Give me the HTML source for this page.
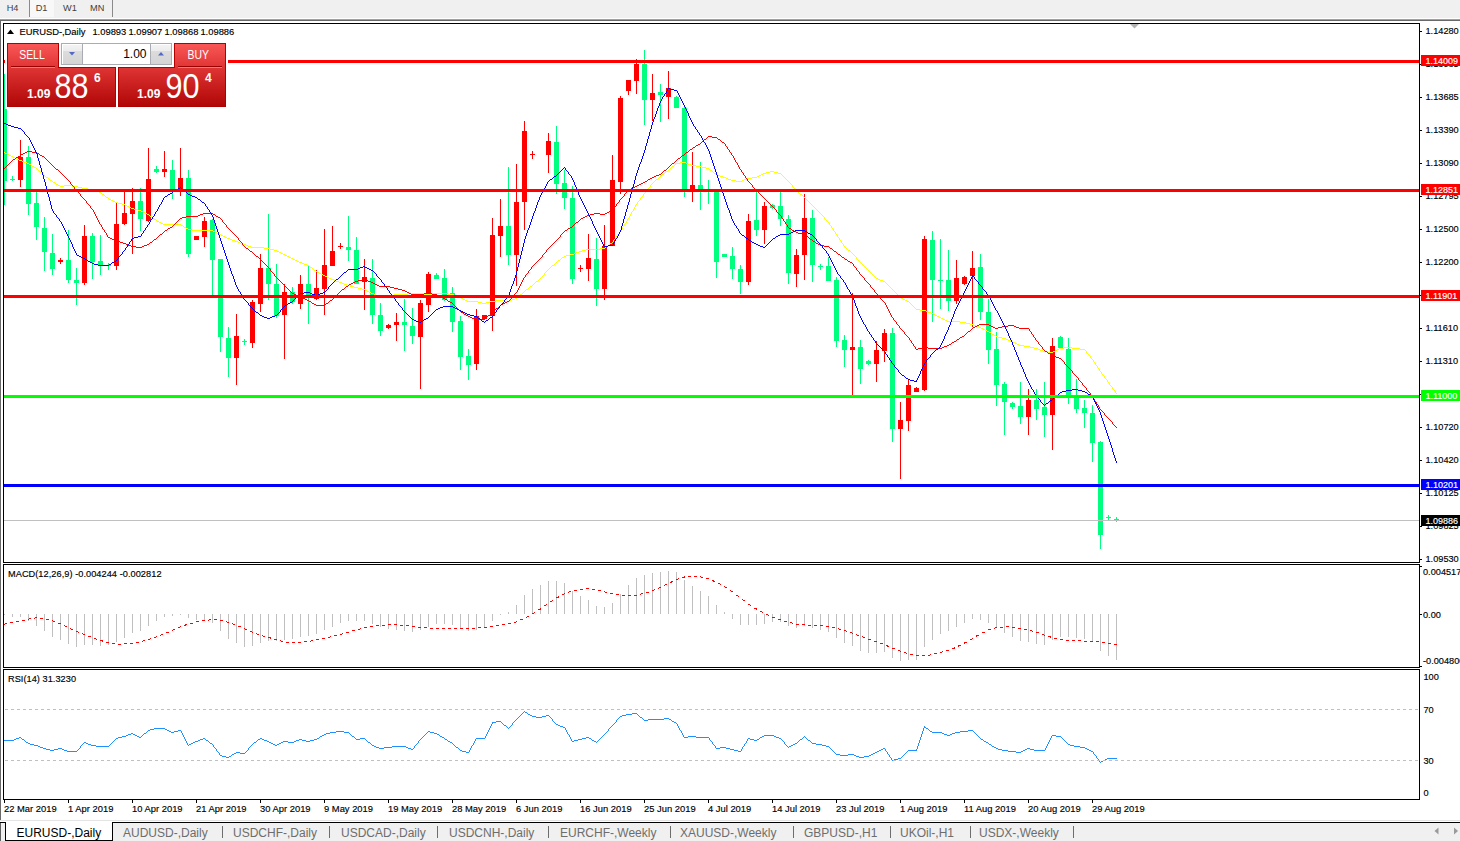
<!DOCTYPE html>
<html><head><meta charset="utf-8"><style>
html,body{margin:0;padding:0;background:#fff;width:1460px;height:841px;overflow:hidden}
svg{display:block}
text{font-family:"Liberation Sans", sans-serif}
text.s{stroke:currentColor}
.panel{position:absolute;font-family:"Liberation Sans", sans-serif}
</style></head><body>
<svg width="1460" height="841" viewBox="0 0 1460 841">
<rect x="0" y="0" width="1460" height="841" fill="#ffffff" />
<rect x="0" y="0" width="1460" height="18" fill="#f0f0f0" />
<rect x="0" y="18" width="1460" height="1" fill="#ffffff" />
<rect x="0" y="19" width="1460" height="1" fill="#a0a0a0" />
<rect x="0" y="20" width="1460" height="1" fill="#696969" />
<rect x="30" y="0" width="24" height="17" fill="#f8f8f8" />
<rect x="29" y="0" width="1" height="17" fill="#8a8a8a" />
<rect x="112" y="0" width="1" height="17" fill="#8a8a8a" />
<text x="6.7" y="11" font-size="9.2" fill="#404040">H4</text>
<text x="35.7" y="11" font-size="9.2" fill="#404040">D1</text>
<text x="63" y="11" font-size="9.2" fill="#404040">W1</text>
<text x="90" y="11" font-size="9.2" fill="#404040">MN</text>
<rect x="0" y="20" width="1" height="800" fill="#696969" />
<rect x="3" y="23" width="1417" height="1" fill="#000" />
<rect x="3" y="562" width="1417" height="1" fill="#000" />
<rect x="3" y="23" width="1" height="540" fill="#000" />
<rect x="1419" y="23" width="1" height="540" fill="#000" />
<rect x="3" y="564" width="1417" height="1" fill="#000" />
<rect x="3" y="667" width="1417" height="1" fill="#000" />
<rect x="3" y="564" width="1" height="104" fill="#000" />
<rect x="1419" y="564" width="1" height="104" fill="#000" />
<rect x="3" y="669" width="1417" height="1" fill="#000" />
<rect x="3" y="799" width="1417" height="1" fill="#000" />
<rect x="3" y="669" width="1" height="131" fill="#000" />
<rect x="1419" y="669" width="1" height="131" fill="#000" />
<g shape-rendering="crispEdges">
<rect x="4" y="74" width="1" height="131" fill="#00ff7f" />
<rect x="4" y="74" width="3" height="107" fill="#00ff7f" />
<rect x="12" y="176" width="1" height="5" fill="#00ff7f" />
<rect x="10" y="179" width="5" height="1" fill="#00ff7f" />
<rect x="20" y="140" width="1" height="47" fill="#ff0000" />
<rect x="18" y="157" width="5" height="23" fill="#ff0000" />
<rect x="28" y="146" width="1" height="69" fill="#00ff7f" />
<rect x="26" y="157" width="5" height="47" fill="#00ff7f" />
<rect x="36" y="192" width="1" height="48" fill="#00ff7f" />
<rect x="34" y="203" width="5" height="24" fill="#00ff7f" />
<rect x="44" y="217" width="1" height="54" fill="#00ff7f" />
<rect x="42" y="228" width="5" height="24" fill="#00ff7f" />
<rect x="52" y="234" width="1" height="41" fill="#00ff7f" />
<rect x="50" y="253" width="5" height="16" fill="#00ff7f" />
<rect x="60" y="258" width="1" height="6" fill="#ff0000" />
<rect x="58" y="260" width="5" height="2" fill="#ff0000" />
<rect x="68" y="230" width="1" height="53" fill="#00ff7f" />
<rect x="66" y="260" width="5" height="20" fill="#00ff7f" />
<rect x="76" y="268" width="1" height="37" fill="#00ff7f" />
<rect x="74" y="280" width="5" height="3" fill="#00ff7f" />
<rect x="84" y="225" width="1" height="60" fill="#ff0000" />
<rect x="82" y="236" width="5" height="47" fill="#ff0000" />
<rect x="92" y="233" width="1" height="46" fill="#00ff7f" />
<rect x="90" y="236" width="5" height="26" fill="#00ff7f" />
<rect x="100" y="235" width="1" height="40" fill="#00ff7f" />
<rect x="98" y="261" width="5" height="5" fill="#00ff7f" />
<rect x="108" y="263" width="1" height="7" fill="#00ff7f" />
<rect x="106" y="265" width="5" height="1" fill="#00ff7f" />
<rect x="116" y="202" width="1" height="68" fill="#ff0000" />
<rect x="114" y="224" width="5" height="42" fill="#ff0000" />
<rect x="124" y="191" width="1" height="34" fill="#ff0000" />
<rect x="122" y="213" width="5" height="11" fill="#ff0000" />
<rect x="132" y="188" width="1" height="66" fill="#ff0000" />
<rect x="130" y="201" width="5" height="13" fill="#ff0000" />
<rect x="140" y="188" width="1" height="43" fill="#00ff7f" />
<rect x="138" y="201" width="5" height="18" fill="#00ff7f" />
<rect x="148" y="148" width="1" height="74" fill="#ff0000" />
<rect x="146" y="179" width="5" height="42" fill="#ff0000" />
<rect x="156" y="166" width="1" height="7" fill="#00ff7f" />
<rect x="154" y="169" width="5" height="3" fill="#00ff7f" />
<rect x="164" y="151" width="1" height="26" fill="#ff0000" />
<rect x="162" y="169" width="5" height="3" fill="#ff0000" />
<rect x="172" y="160" width="1" height="39" fill="#00ff7f" />
<rect x="170" y="170" width="5" height="19" fill="#00ff7f" />
<rect x="180" y="148" width="1" height="48" fill="#ff0000" />
<rect x="178" y="178" width="5" height="12" fill="#ff0000" />
<rect x="188" y="170" width="1" height="87" fill="#00ff7f" />
<rect x="186" y="178" width="5" height="76" fill="#00ff7f" />
<rect x="196" y="236" width="1" height="4" fill="#ff0000" />
<rect x="194" y="236" width="5" height="4" fill="#ff0000" />
<rect x="204" y="217" width="1" height="30" fill="#ff0000" />
<rect x="202" y="221" width="5" height="16" fill="#ff0000" />
<rect x="212" y="219" width="1" height="76" fill="#00ff7f" />
<rect x="210" y="220" width="5" height="40" fill="#00ff7f" />
<rect x="220" y="259" width="1" height="93" fill="#00ff7f" />
<rect x="218" y="259" width="5" height="78" fill="#00ff7f" />
<rect x="228" y="327" width="1" height="50" fill="#00ff7f" />
<rect x="226" y="338" width="5" height="20" fill="#00ff7f" />
<rect x="236" y="314" width="1" height="71" fill="#ff0000" />
<rect x="234" y="336" width="5" height="22" fill="#ff0000" />
<rect x="244" y="339" width="1" height="6" fill="#00ff7f" />
<rect x="242" y="341" width="5" height="1" fill="#00ff7f" />
<rect x="252" y="300" width="1" height="48" fill="#ff0000" />
<rect x="250" y="302" width="5" height="41" fill="#ff0000" />
<rect x="260" y="254" width="1" height="58" fill="#ff0000" />
<rect x="258" y="268" width="5" height="36" fill="#ff0000" />
<rect x="268" y="214" width="1" height="86" fill="#00ff7f" />
<rect x="266" y="268" width="5" height="16" fill="#00ff7f" />
<rect x="276" y="264" width="1" height="54" fill="#00ff7f" />
<rect x="274" y="284" width="5" height="32" fill="#00ff7f" />
<rect x="284" y="284" width="1" height="75" fill="#ff0000" />
<rect x="282" y="292" width="5" height="23" fill="#ff0000" />
<rect x="292" y="287" width="1" height="17" fill="#00ff7f" />
<rect x="290" y="292" width="5" height="10" fill="#00ff7f" />
<rect x="300" y="275" width="1" height="34" fill="#ff0000" />
<rect x="298" y="284" width="5" height="20" fill="#ff0000" />
<rect x="308" y="266" width="1" height="58" fill="#00ff7f" />
<rect x="306" y="284" width="5" height="12" fill="#00ff7f" />
<rect x="316" y="270" width="1" height="30" fill="#ff0000" />
<rect x="314" y="288" width="5" height="11" fill="#ff0000" />
<rect x="324" y="229" width="1" height="86" fill="#ff0000" />
<rect x="322" y="265" width="5" height="24" fill="#ff0000" />
<rect x="332" y="226" width="1" height="40" fill="#ff0000" />
<rect x="330" y="251" width="5" height="15" fill="#ff0000" />
<rect x="340" y="243" width="1" height="6" fill="#ff0000" />
<rect x="338" y="246" width="5" height="1" fill="#ff0000" />
<rect x="348" y="216" width="1" height="45" fill="#00ff7f" />
<rect x="346" y="247" width="5" height="3" fill="#00ff7f" />
<rect x="356" y="237" width="1" height="47" fill="#00ff7f" />
<rect x="354" y="250" width="5" height="34" fill="#00ff7f" />
<rect x="364" y="259" width="1" height="51" fill="#ff0000" />
<rect x="362" y="277" width="5" height="5" fill="#ff0000" />
<rect x="372" y="259" width="1" height="65" fill="#00ff7f" />
<rect x="370" y="278" width="5" height="37" fill="#00ff7f" />
<rect x="380" y="303" width="1" height="33" fill="#00ff7f" />
<rect x="378" y="315" width="5" height="16" fill="#00ff7f" />
<rect x="388" y="324" width="1" height="5" fill="#ff0000" />
<rect x="386" y="325" width="5" height="3" fill="#ff0000" />
<rect x="396" y="313" width="1" height="28" fill="#ff0000" />
<rect x="394" y="322" width="5" height="3" fill="#ff0000" />
<rect x="404" y="299" width="1" height="52" fill="#00ff7f" />
<rect x="402" y="322" width="5" height="3" fill="#00ff7f" />
<rect x="412" y="308" width="1" height="36" fill="#00ff7f" />
<rect x="410" y="326" width="5" height="10" fill="#00ff7f" />
<rect x="420" y="300" width="1" height="89" fill="#ff0000" />
<rect x="418" y="303" width="5" height="34" fill="#ff0000" />
<rect x="428" y="272" width="1" height="40" fill="#ff0000" />
<rect x="426" y="274" width="5" height="31" fill="#ff0000" />
<rect x="436" y="273" width="1" height="6" fill="#00ff7f" />
<rect x="434" y="275" width="5" height="4" fill="#00ff7f" />
<rect x="444" y="269" width="1" height="32" fill="#00ff7f" />
<rect x="442" y="278" width="5" height="22" fill="#00ff7f" />
<rect x="452" y="287" width="1" height="45" fill="#00ff7f" />
<rect x="450" y="293" width="5" height="29" fill="#00ff7f" />
<rect x="460" y="316" width="1" height="54" fill="#00ff7f" />
<rect x="458" y="321" width="5" height="36" fill="#00ff7f" />
<rect x="468" y="349" width="1" height="31" fill="#00ff7f" />
<rect x="466" y="356" width="5" height="9" fill="#00ff7f" />
<rect x="476" y="309" width="1" height="61" fill="#ff0000" />
<rect x="474" y="316" width="5" height="48" fill="#ff0000" />
<rect x="484" y="315" width="1" height="4" fill="#ff0000" />
<rect x="482" y="315" width="5" height="4" fill="#ff0000" />
<rect x="492" y="218" width="1" height="113" fill="#ff0000" />
<rect x="490" y="235" width="5" height="81" fill="#ff0000" />
<rect x="500" y="199" width="1" height="58" fill="#ff0000" />
<rect x="498" y="226" width="5" height="10" fill="#ff0000" />
<rect x="508" y="167" width="1" height="98" fill="#00ff7f" />
<rect x="506" y="226" width="5" height="29" fill="#00ff7f" />
<rect x="516" y="164" width="1" height="122" fill="#ff0000" />
<rect x="514" y="202" width="5" height="53" fill="#ff0000" />
<rect x="524" y="121" width="1" height="109" fill="#ff0000" />
<rect x="522" y="131" width="5" height="71" fill="#ff0000" />
<rect x="532" y="151" width="1" height="8" fill="#ff0000" />
<rect x="530" y="154" width="5" height="1" fill="#ff0000" />
<rect x="548" y="133" width="1" height="40" fill="#ff0000" />
<rect x="546" y="141" width="5" height="14" fill="#ff0000" />
<rect x="556" y="126" width="1" height="68" fill="#00ff7f" />
<rect x="554" y="142" width="5" height="42" fill="#00ff7f" />
<rect x="564" y="170" width="1" height="39" fill="#00ff7f" />
<rect x="562" y="183" width="5" height="15" fill="#00ff7f" />
<rect x="572" y="186" width="1" height="98" fill="#00ff7f" />
<rect x="570" y="198" width="5" height="81" fill="#00ff7f" />
<rect x="580" y="265" width="1" height="7" fill="#ff0000" />
<rect x="578" y="268" width="5" height="1" fill="#ff0000" />
<rect x="588" y="234" width="1" height="47" fill="#ff0000" />
<rect x="586" y="258" width="5" height="11" fill="#ff0000" />
<rect x="596" y="238" width="1" height="68" fill="#00ff7f" />
<rect x="594" y="259" width="5" height="30" fill="#00ff7f" />
<rect x="604" y="225" width="1" height="75" fill="#ff0000" />
<rect x="602" y="246" width="5" height="43" fill="#ff0000" />
<rect x="612" y="155" width="1" height="91" fill="#ff0000" />
<rect x="610" y="180" width="5" height="66" fill="#ff0000" />
<rect x="620" y="96" width="1" height="98" fill="#ff0000" />
<rect x="618" y="98" width="5" height="84" fill="#ff0000" />
<rect x="628" y="80" width="1" height="15" fill="#ff0000" />
<rect x="626" y="80" width="5" height="11" fill="#ff0000" />
<rect x="636" y="59" width="1" height="35" fill="#ff0000" />
<rect x="634" y="64" width="5" height="17" fill="#ff0000" />
<rect x="644" y="50" width="1" height="75" fill="#00ff7f" />
<rect x="642" y="64" width="5" height="36" fill="#00ff7f" />
<rect x="652" y="74" width="1" height="47" fill="#ff0000" />
<rect x="650" y="93" width="5" height="7" fill="#ff0000" />
<rect x="660" y="84" width="1" height="38" fill="#00ff7f" />
<rect x="658" y="92" width="5" height="3" fill="#00ff7f" />
<rect x="668" y="71" width="1" height="48" fill="#ff0000" />
<rect x="666" y="88" width="5" height="9" fill="#ff0000" />
<rect x="676" y="96" width="1" height="12" fill="#00ff7f" />
<rect x="674" y="97" width="5" height="11" fill="#00ff7f" />
<rect x="684" y="107" width="1" height="90" fill="#00ff7f" />
<rect x="682" y="108" width="5" height="82" fill="#00ff7f" />
<rect x="692" y="152" width="1" height="50" fill="#ff0000" />
<rect x="690" y="185" width="5" height="5" fill="#ff0000" />
<rect x="700" y="162" width="1" height="48" fill="#00ff7f" />
<rect x="698" y="185" width="5" height="4" fill="#00ff7f" />
<rect x="708" y="180" width="1" height="24" fill="#00ff7f" />
<rect x="706" y="189" width="5" height="1" fill="#00ff7f" />
<rect x="716" y="190" width="1" height="88" fill="#00ff7f" />
<rect x="714" y="190" width="5" height="72" fill="#00ff7f" />
<rect x="724" y="254" width="1" height="3" fill="#00ff7f" />
<rect x="722" y="254" width="5" height="3" fill="#00ff7f" />
<rect x="732" y="247" width="1" height="32" fill="#00ff7f" />
<rect x="730" y="256" width="5" height="13" fill="#00ff7f" />
<rect x="740" y="265" width="1" height="29" fill="#00ff7f" />
<rect x="738" y="269" width="5" height="13" fill="#00ff7f" />
<rect x="748" y="214" width="1" height="71" fill="#ff0000" />
<rect x="746" y="221" width="5" height="61" fill="#ff0000" />
<rect x="756" y="190" width="1" height="46" fill="#00ff7f" />
<rect x="754" y="220" width="5" height="10" fill="#00ff7f" />
<rect x="764" y="202" width="1" height="42" fill="#ff0000" />
<rect x="762" y="206" width="5" height="24" fill="#ff0000" />
<rect x="772" y="204" width="1" height="5" fill="#00ff7f" />
<rect x="770" y="205" width="5" height="3" fill="#00ff7f" />
<rect x="780" y="192" width="1" height="34" fill="#00ff7f" />
<rect x="778" y="206" width="5" height="13" fill="#00ff7f" />
<rect x="788" y="215" width="1" height="69" fill="#00ff7f" />
<rect x="786" y="219" width="5" height="54" fill="#00ff7f" />
<rect x="796" y="249" width="1" height="38" fill="#ff0000" />
<rect x="794" y="255" width="5" height="19" fill="#ff0000" />
<rect x="804" y="194" width="1" height="86" fill="#ff0000" />
<rect x="802" y="218" width="5" height="37" fill="#ff0000" />
<rect x="812" y="210" width="1" height="72" fill="#00ff7f" />
<rect x="810" y="218" width="5" height="47" fill="#00ff7f" />
<rect x="820" y="264" width="1" height="6" fill="#00ff7f" />
<rect x="818" y="266" width="5" height="1" fill="#00ff7f" />
<rect x="828" y="257" width="1" height="24" fill="#00ff7f" />
<rect x="826" y="266" width="5" height="15" fill="#00ff7f" />
<rect x="836" y="277" width="1" height="70" fill="#00ff7f" />
<rect x="834" y="280" width="5" height="61" fill="#00ff7f" />
<rect x="844" y="335" width="1" height="32" fill="#00ff7f" />
<rect x="842" y="340" width="5" height="10" fill="#00ff7f" />
<rect x="852" y="293" width="1" height="102" fill="#ff0000" />
<rect x="850" y="347" width="5" height="3" fill="#ff0000" />
<rect x="860" y="340" width="1" height="44" fill="#00ff7f" />
<rect x="858" y="347" width="5" height="22" fill="#00ff7f" />
<rect x="868" y="360" width="1" height="5" fill="#00ff7f" />
<rect x="866" y="361" width="5" height="3" fill="#00ff7f" />
<rect x="876" y="341" width="1" height="41" fill="#ff0000" />
<rect x="874" y="350" width="5" height="14" fill="#ff0000" />
<rect x="884" y="329" width="1" height="33" fill="#ff0000" />
<rect x="882" y="333" width="5" height="18" fill="#ff0000" />
<rect x="892" y="328" width="1" height="114" fill="#00ff7f" />
<rect x="890" y="333" width="5" height="96" fill="#00ff7f" />
<rect x="900" y="402" width="1" height="77" fill="#ff0000" />
<rect x="898" y="420" width="5" height="9" fill="#ff0000" />
<rect x="908" y="379" width="1" height="52" fill="#ff0000" />
<rect x="906" y="385" width="5" height="36" fill="#ff0000" />
<rect x="916" y="387" width="1" height="5" fill="#ff0000" />
<rect x="914" y="388" width="5" height="4" fill="#ff0000" />
<rect x="924" y="236" width="1" height="155" fill="#ff0000" />
<rect x="922" y="239" width="5" height="151" fill="#ff0000" />
<rect x="932" y="231" width="1" height="91" fill="#00ff7f" />
<rect x="930" y="240" width="5" height="40" fill="#00ff7f" />
<rect x="940" y="239" width="1" height="70" fill="#00ff7f" />
<rect x="938" y="280" width="5" height="1" fill="#00ff7f" />
<rect x="948" y="250" width="1" height="61" fill="#00ff7f" />
<rect x="946" y="280" width="5" height="21" fill="#00ff7f" />
<rect x="956" y="260" width="1" height="44" fill="#ff0000" />
<rect x="954" y="278" width="5" height="23" fill="#ff0000" />
<rect x="964" y="276" width="1" height="9" fill="#ff0000" />
<rect x="962" y="277" width="5" height="7" fill="#ff0000" />
<rect x="972" y="251" width="1" height="76" fill="#ff0000" />
<rect x="970" y="268" width="5" height="8" fill="#ff0000" />
<rect x="980" y="254" width="1" height="66" fill="#00ff7f" />
<rect x="978" y="267" width="5" height="45" fill="#00ff7f" />
<rect x="988" y="299" width="1" height="65" fill="#00ff7f" />
<rect x="986" y="312" width="5" height="38" fill="#00ff7f" />
<rect x="996" y="332" width="1" height="74" fill="#00ff7f" />
<rect x="994" y="349" width="5" height="36" fill="#00ff7f" />
<rect x="1004" y="382" width="1" height="53" fill="#00ff7f" />
<rect x="1002" y="384" width="5" height="18" fill="#00ff7f" />
<rect x="1012" y="402" width="1" height="7" fill="#00ff7f" />
<rect x="1010" y="403" width="5" height="4" fill="#00ff7f" />
<rect x="1020" y="382" width="1" height="42" fill="#00ff7f" />
<rect x="1018" y="406" width="5" height="11" fill="#00ff7f" />
<rect x="1028" y="389" width="1" height="46" fill="#ff0000" />
<rect x="1026" y="400" width="5" height="17" fill="#ff0000" />
<rect x="1036" y="389" width="1" height="31" fill="#00ff7f" />
<rect x="1034" y="400" width="5" height="9" fill="#00ff7f" />
<rect x="1044" y="382" width="1" height="55" fill="#00ff7f" />
<rect x="1042" y="407" width="5" height="8" fill="#00ff7f" />
<rect x="1052" y="338" width="1" height="112" fill="#ff0000" />
<rect x="1050" y="346" width="5" height="69" fill="#ff0000" />
<rect x="1060" y="336" width="1" height="13" fill="#00ff7f" />
<rect x="1058" y="337" width="5" height="11" fill="#00ff7f" />
<rect x="1068" y="338" width="1" height="66" fill="#00ff7f" />
<rect x="1066" y="349" width="5" height="47" fill="#00ff7f" />
<rect x="1076" y="379" width="1" height="34" fill="#00ff7f" />
<rect x="1074" y="396" width="5" height="13" fill="#00ff7f" />
<rect x="1084" y="400" width="1" height="28" fill="#00ff7f" />
<rect x="1082" y="408" width="5" height="5" fill="#00ff7f" />
<rect x="1092" y="405" width="1" height="57" fill="#00ff7f" />
<rect x="1090" y="413" width="5" height="30" fill="#00ff7f" />
<rect x="1100" y="441" width="1" height="108" fill="#00ff7f" />
<rect x="1098" y="442" width="5" height="93" fill="#00ff7f" />
<rect x="1108" y="515" width="1" height="5" fill="#00ff7f" />
<rect x="1106" y="517" width="5" height="1" fill="#00ff7f" />
<rect x="1116" y="517" width="1" height="5" fill="#00ff7f" />
<rect x="1114" y="519" width="5" height="1" fill="#00ff7f" />
</g>
<path d="M4 152h1v1h-1zM5 153h2v1h-2zM7 154h2v1h-2zM9 155h2v1h-2zM11 156h2v1h-2zM13 157h2v1h-2zM15 158h2v1h-2zM17 159h2v1h-2zM19 160h3v1h-3zM22 161h2v1h-2zM24 162h3v1h-3zM680 162h6v1h-6zM27 163h2v1h-2zM676 163h4v1h-4zM686 163h2v1h-2zM29 164h2v1h-2zM675 164h1v1h-1zM688 164h3v1h-3zM31 165h1v1h-1zM674 165h1v1h-1zM691 165h5v1h-5zM32 166h2v1h-2zM672 166h2v1h-2zM696 166h6v1h-6zM34 167h2v1h-2zM671 167h1v1h-1zM702 167h4v1h-4zM36 168h1v1h-1zM670 168h1v1h-1zM706 168h3v1h-3zM37 169h1v1h-1zM669 169h1v1h-1zM709 169h1v1h-1zM38 170h1v1h-1zM668 170h1v1h-1zM710 170h2v1h-2zM39 171h1v1h-1zM666 171h2v1h-2zM712 171h1v1h-1zM770 171h4v1h-4zM40 172h2v1h-2zM665 172h1v1h-1zM713 172h1v1h-1zM766 172h4v1h-4zM774 172h4v1h-4zM42 173h1v1h-1zM664 173h1v1h-1zM714 173h2v1h-2zM763 173h3v1h-3zM778 173h3v1h-3zM43 174h1v1h-1zM662 174h2v1h-2zM716 174h2v1h-2zM761 174h2v1h-2zM781 174h1v1h-1zM44 175h1v1h-1zM661 175h1v1h-1zM718 175h2v1h-2zM759 175h2v1h-2zM782 175h1v1h-1zM45 176h1v1h-1zM660 176h1v1h-1zM720 176h3v1h-3zM757 176h2v1h-2zM783 176h1v1h-1zM46 177h2v1h-2zM659 177h1v1h-1zM723 177h3v1h-3zM752 177h5v1h-5zM784 177h1v1h-1zM48 178h1v1h-1zM658 178h1v1h-1zM726 178h2v1h-2zM747 178h5v1h-5zM785 178h1v1h-1zM49 179h1v1h-1zM656 179h2v1h-2zM728 179h3v1h-3zM744 179h3v1h-3zM786 179h1v1h-1zM50 180h2v1h-2zM655 180h1v1h-1zM731 180h5v1h-5zM742 180h2v1h-2zM787 180h1v1h-1zM52 181h1v1h-1zM654 181h1v1h-1zM736 181h6v1h-6zM788 181h1v1h-1zM53 182h2v1h-2zM653 182h1v1h-1zM789 182h1v1h-1zM55 183h1v1h-1zM652 183h1v1h-1zM790 183h1v1h-1zM56 184h2v1h-2zM651 184h1v1h-1zM791 184h1v1h-1zM58 185h2v1h-2zM64 185h8v1h-8zM650 185h1v1h-1zM792 185h1v1h-1zM60 186h4v1h-4zM72 186h6v1h-6zM650 186h1v1h-1zM792 186h1v1h-1zM78 187h4v1h-4zM649 187h1v1h-1zM793 187h1v1h-1zM82 188h6v1h-6zM648 188h1v1h-1zM794 188h1v1h-1zM88 189h6v1h-6zM647 189h1v1h-1zM795 189h1v1h-1zM94 190h2v1h-2zM646 190h1v1h-1zM796 190h1v1h-1zM96 191h3v1h-3zM646 191h1v1h-1zM797 191h1v1h-1zM99 192h2v1h-2zM645 192h1v1h-1zM798 192h1v1h-1zM101 193h1v1h-1zM644 193h1v1h-1zM799 193h1v1h-1zM102 194h2v1h-2zM643 194h1v1h-1zM800 194h2v1h-2zM104 195h1v1h-1zM643 195h1v1h-1zM802 195h1v1h-1zM105 196h1v1h-1zM642 196h1v1h-1zM803 196h1v1h-1zM106 197h2v1h-2zM641 197h1v1h-1zM804 197h1v1h-1zM108 198h1v1h-1zM640 198h1v1h-1zM805 198h1v1h-1zM109 199h2v1h-2zM640 199h1v1h-1zM806 199h1v1h-1zM111 200h2v1h-2zM639 200h1v1h-1zM807 200h1v1h-1zM113 201h2v1h-2zM638 201h1v1h-1zM808 201h1v1h-1zM115 202h3v1h-3zM637 202h1v1h-1zM809 202h1v1h-1zM118 203h4v1h-4zM637 203h1v1h-1zM810 203h1v1h-1zM122 204h3v1h-3zM636 204h1v1h-1zM811 204h1v1h-1zM125 205h2v1h-2zM635 205h1v1h-1zM812 205h1v1h-1zM127 206h2v1h-2zM635 206h1v1h-1zM813 206h1v1h-1zM129 207h2v1h-2zM634 207h1v1h-1zM814 207h1v1h-1zM131 208h3v1h-3zM634 208h1v1h-1zM815 208h1v1h-1zM134 209h4v1h-4zM633 209h1v1h-1zM816 209h1v1h-1zM138 210h3v1h-3zM633 210h1v1h-1zM817 210h1v1h-1zM141 211h2v1h-2zM632 211h1v1h-1zM818 211h1v1h-1zM143 212h2v1h-2zM631 212h1v1h-1zM819 212h1v1h-1zM145 213h2v1h-2zM631 213h1v1h-1zM820 213h1v1h-1zM147 214h2v1h-2zM630 214h1v1h-1zM821 214h1v1h-1zM149 215h1v1h-1zM630 215h1v1h-1zM822 215h1v1h-1zM150 216h2v1h-2zM629 216h1v1h-1zM823 216h1v1h-1zM152 217h1v1h-1zM629 217h1v1h-1zM824 217h1v1h-1zM153 218h1v1h-1zM628 218h1v1h-1zM824 218h1v1h-1zM154 219h2v1h-2zM627 219h1v1h-1zM825 219h1v1h-1zM156 220h1v1h-1zM627 220h1v1h-1zM826 220h1v1h-1zM157 221h2v1h-2zM626 221h1v1h-1zM827 221h1v1h-1zM159 222h2v1h-2zM626 222h1v1h-1zM828 222h1v1h-1zM161 223h2v1h-2zM625 223h1v1h-1zM829 223h1v1h-1zM163 224h18v1h-18zM624 224h1v1h-1zM829 224h1v1h-1zM181 225h2v1h-2zM624 225h1v1h-1zM830 225h1v1h-1zM183 226h1v1h-1zM623 226h1v1h-1zM831 226h1v1h-1zM184 227h2v1h-2zM622 227h1v1h-1zM831 227h1v1h-1zM186 228h2v1h-2zM622 228h1v1h-1zM832 228h1v1h-1zM188 229h4v1h-4zM621 229h1v1h-1zM833 229h1v1h-1zM192 230h21v1h-21zM621 230h1v1h-1zM833 230h1v1h-1zM213 231h2v1h-2zM620 231h1v1h-1zM834 231h1v1h-1zM215 232h2v1h-2zM619 232h1v1h-1zM835 232h1v1h-1zM217 233h2v1h-2zM619 233h1v1h-1zM835 233h1v1h-1zM219 234h2v1h-2zM618 234h1v1h-1zM836 234h1v1h-1zM221 235h2v1h-2zM617 235h1v1h-1zM837 235h1v1h-1zM223 236h2v1h-2zM616 236h1v1h-1zM837 236h1v1h-1zM225 237h2v1h-2zM616 237h1v1h-1zM838 237h1v1h-1zM227 238h3v1h-3zM615 238h1v1h-1zM839 238h1v1h-1zM230 239h2v1h-2zM614 239h1v1h-1zM839 239h1v1h-1zM232 240h3v1h-3zM613 240h1v1h-1zM840 240h1v1h-1zM235 241h3v1h-3zM613 241h1v1h-1zM841 241h1v1h-1zM238 242h2v1h-2zM612 242h1v1h-1zM841 242h1v1h-1zM240 243h3v1h-3zM610 243h2v1h-2zM842 243h1v1h-1zM243 244h3v1h-3zM609 244h1v1h-1zM843 244h1v1h-1zM246 245h2v1h-2zM608 245h1v1h-1zM843 245h1v1h-1zM248 246h3v1h-3zM606 246h2v1h-2zM844 246h1v1h-1zM251 247h13v1h-13zM605 247h1v1h-1zM845 247h1v1h-1zM264 248h6v1h-6zM600 248h5v1h-5zM846 248h1v1h-1zM270 249h4v1h-4zM586 249h14v1h-14zM847 249h1v1h-1zM274 250h3v1h-3zM582 250h4v1h-4zM848 250h2v1h-2zM277 251h2v1h-2zM579 251h3v1h-3zM850 251h1v1h-1zM279 252h2v1h-2zM576 252h3v1h-3zM851 252h1v1h-1zM281 253h2v1h-2zM574 253h2v1h-2zM852 253h1v1h-1zM283 254h2v1h-2zM570 254h4v1h-4zM853 254h1v1h-1zM285 255h2v1h-2zM566 255h4v1h-4zM854 255h1v1h-1zM287 256h2v1h-2zM564 256h2v1h-2zM855 256h1v1h-1zM289 257h2v1h-2zM562 257h2v1h-2zM856 257h1v1h-1zM291 258h2v1h-2zM561 258h1v1h-1zM856 258h1v1h-1zM293 259h2v1h-2zM560 259h1v1h-1zM857 259h1v1h-1zM295 260h2v1h-2zM558 260h2v1h-2zM858 260h1v1h-1zM297 261h2v1h-2zM557 261h1v1h-1zM859 261h1v1h-1zM299 262h3v1h-3zM556 262h1v1h-1zM860 262h1v1h-1zM302 263h2v1h-2zM555 263h1v1h-1zM861 263h1v1h-1zM304 264h3v1h-3zM554 264h1v1h-1zM862 264h1v1h-1zM307 265h2v1h-2zM552 265h2v1h-2zM863 265h1v1h-1zM309 266h1v1h-1zM551 266h1v1h-1zM864 266h1v1h-1zM310 267h2v1h-2zM550 267h1v1h-1zM865 267h1v1h-1zM312 268h1v1h-1zM549 268h1v1h-1zM866 268h1v1h-1zM313 269h1v1h-1zM548 269h1v1h-1zM867 269h1v1h-1zM314 270h2v1h-2zM547 270h1v1h-1zM868 270h1v1h-1zM316 271h1v1h-1zM546 271h1v1h-1zM869 271h1v1h-1zM317 272h2v1h-2zM545 272h1v1h-1zM870 272h1v1h-1zM319 273h2v1h-2zM544 273h1v1h-1zM871 273h1v1h-1zM321 274h2v1h-2zM544 274h1v1h-1zM872 274h1v1h-1zM323 275h2v1h-2zM543 275h1v1h-1zM873 275h1v1h-1zM325 276h2v1h-2zM542 276h1v1h-1zM874 276h1v1h-1zM327 277h2v1h-2zM541 277h1v1h-1zM875 277h1v1h-1zM329 278h2v1h-2zM540 278h1v1h-1zM876 278h2v1h-2zM331 279h3v1h-3zM539 279h1v1h-1zM878 279h2v1h-2zM334 280h2v1h-2zM538 280h1v1h-1zM880 280h3v1h-3zM336 281h3v1h-3zM536 281h2v1h-2zM883 281h2v1h-2zM339 282h3v1h-3zM535 282h1v1h-1zM885 282h1v1h-1zM342 283h2v1h-2zM534 283h1v1h-1zM886 283h1v1h-1zM344 284h3v1h-3zM533 284h1v1h-1zM887 284h1v1h-1zM347 285h3v1h-3zM532 285h1v1h-1zM888 285h1v1h-1zM350 286h4v1h-4zM530 286h2v1h-2zM889 286h1v1h-1zM354 287h4v1h-4zM529 287h1v1h-1zM890 287h1v1h-1zM358 288h4v1h-4zM528 288h1v1h-1zM891 288h1v1h-1zM362 289h3v1h-3zM526 289h2v1h-2zM892 289h1v1h-1zM365 290h2v1h-2zM525 290h1v1h-1zM893 290h1v1h-1zM367 291h2v1h-2zM524 291h1v1h-1zM894 291h1v1h-1zM369 292h2v1h-2zM523 292h1v1h-1zM895 292h1v1h-1zM371 293h3v1h-3zM408 293h16v1h-16zM432 293h16v1h-16zM522 293h1v1h-1zM896 293h1v1h-1zM374 294h2v1h-2zM394 294h14v1h-14zM424 294h8v1h-8zM448 294h6v1h-6zM520 294h2v1h-2zM897 294h1v1h-1zM376 295h3v1h-3zM390 295h4v1h-4zM454 295h2v1h-2zM519 295h1v1h-1zM898 295h1v1h-1zM379 296h11v1h-11zM456 296h3v1h-3zM518 296h1v1h-1zM899 296h1v1h-1zM459 297h2v1h-2zM517 297h1v1h-1zM900 297h1v1h-1zM461 298h2v1h-2zM515 298h2v1h-2zM901 298h2v1h-2zM463 299h2v1h-2zM512 299h3v1h-3zM903 299h2v1h-2zM465 300h2v1h-2zM496 300h8v1h-8zM510 300h2v1h-2zM905 300h2v1h-2zM467 301h11v1h-11zM490 301h6v1h-6zM504 301h6v1h-6zM907 301h2v1h-2zM478 302h4v1h-4zM486 302h4v1h-4zM909 302h1v1h-1zM482 303h4v1h-4zM910 303h1v1h-1zM911 304h1v1h-1zM912 305h1v1h-1zM913 306h1v1h-1zM914 307h1v1h-1zM915 308h1v1h-1zM916 309h4v1h-4zM920 310h6v1h-6zM926 311h2v1h-2zM928 312h3v1h-3zM931 313h2v1h-2zM933 314h2v1h-2zM935 315h2v1h-2zM937 316h2v1h-2zM939 317h2v1h-2zM941 318h2v1h-2zM943 319h2v1h-2zM945 320h2v1h-2zM947 321h13v1h-13zM960 322h6v1h-6zM966 323h4v1h-4zM970 324h4v1h-4zM974 325h2v1h-2zM976 326h3v1h-3zM979 327h2v1h-2zM981 328h2v1h-2zM983 329h2v1h-2zM985 330h2v1h-2zM987 331h2v1h-2zM989 332h2v1h-2zM991 333h1v1h-1zM992 334h2v1h-2zM994 335h2v1h-2zM996 336h2v1h-2zM998 337h4v1h-4zM1002 338h4v1h-4zM1006 339h2v1h-2zM1008 340h3v1h-3zM1011 341h2v1h-2zM1013 342h2v1h-2zM1015 343h2v1h-2zM1017 344h2v1h-2zM1019 345h5v1h-5zM1024 346h6v1h-6zM1030 347h4v1h-4zM1064 347h8v1h-8zM1034 348h4v1h-4zM1059 348h5v1h-5zM1072 348h8v1h-8zM1038 349h2v1h-2zM1057 349h2v1h-2zM1080 349h5v1h-5zM1040 350h3v1h-3zM1055 350h2v1h-2zM1085 350h1v1h-1zM1043 351h5v1h-5zM1053 351h2v1h-2zM1086 351h1v1h-1zM1048 352h5v1h-5zM1086 352h1v1h-1zM1087 353h1v1h-1zM1088 354h1v1h-1zM1089 355h1v1h-1zM1090 356h1v1h-1zM1090 357h1v1h-1zM1091 358h1v1h-1zM1092 359h1v1h-1zM1093 360h1v1h-1zM1093 361h1v1h-1zM1094 362h1v1h-1zM1095 363h1v1h-1zM1095 364h1v1h-1zM1096 365h1v1h-1zM1097 366h1v1h-1zM1097 367h1v1h-1zM1098 368h1v1h-1zM1099 369h1v1h-1zM1099 370h1v1h-1zM1100 371h1v1h-1zM1101 372h1v1h-1zM1101 373h1v1h-1zM1102 374h1v1h-1zM1103 375h1v1h-1zM1104 376h1v1h-1zM1104 377h1v1h-1zM1105 378h1v1h-1zM1106 379h1v1h-1zM1107 380h1v1h-1zM1107 381h1v1h-1zM1108 382h1v1h-1zM1109 383h1v1h-1zM1109 384h1v1h-1zM1110 385h1v1h-1zM1111 386h1v1h-1zM1112 387h1v1h-1zM1112 388h1v1h-1zM1113 389h1v1h-1zM1114 390h1v1h-1zM1115 391h1v1h-1zM1115 392h1v1h-1zM1116 393h1v1h-1z" fill="#ffff00" shape-rendering="crispEdges"/>
<path d="M708 136h4v1h-4zM707 137h1v1h-1zM712 137h5v1h-5zM706 138h1v1h-1zM717 138h1v1h-1zM704 139h2v1h-2zM718 139h2v1h-2zM703 140h1v1h-1zM720 140h1v1h-1zM702 141h1v1h-1zM721 141h1v1h-1zM701 142h1v1h-1zM722 142h2v1h-2zM700 143h1v1h-1zM724 143h1v1h-1zM698 144h2v1h-2zM725 144h1v1h-1zM696 145h2v1h-2zM725 145h1v1h-1zM695 146h1v1h-1zM726 146h1v1h-1zM693 147h2v1h-2zM727 147h1v1h-1zM692 148h1v1h-1zM727 148h1v1h-1zM690 149h2v1h-2zM728 149h1v1h-1zM689 150h1v1h-1zM729 150h1v1h-1zM27 151h5v1h-5zM688 151h1v1h-1zM729 151h1v1h-1zM25 152h2v1h-2zM32 152h5v1h-5zM686 152h2v1h-2zM730 152h1v1h-1zM23 153h2v1h-2zM37 153h2v1h-2zM685 153h1v1h-1zM731 153h1v1h-1zM21 154h2v1h-2zM39 154h1v1h-1zM684 154h1v1h-1zM731 154h1v1h-1zM20 155h1v1h-1zM40 155h2v1h-2zM682 155h2v1h-2zM732 155h1v1h-1zM18 156h2v1h-2zM42 156h2v1h-2zM681 156h1v1h-1zM733 156h1v1h-1zM16 157h2v1h-2zM44 157h1v1h-1zM680 157h1v1h-1zM733 157h1v1h-1zM15 158h1v1h-1zM45 158h1v1h-1zM678 158h2v1h-2zM734 158h1v1h-1zM13 159h2v1h-2zM46 159h1v1h-1zM677 159h1v1h-1zM734 159h1v1h-1zM12 160h1v1h-1zM47 160h1v1h-1zM676 160h1v1h-1zM735 160h1v1h-1zM11 161h1v1h-1zM48 161h1v1h-1zM675 161h1v1h-1zM735 161h1v1h-1zM10 162h1v1h-1zM49 162h1v1h-1zM674 162h1v1h-1zM736 162h1v1h-1zM9 163h1v1h-1zM50 163h1v1h-1zM672 163h2v1h-2zM737 163h1v1h-1zM8 164h1v1h-1zM51 164h1v1h-1zM671 164h1v1h-1zM737 164h1v1h-1zM7 165h1v1h-1zM52 165h1v1h-1zM670 165h1v1h-1zM738 165h1v1h-1zM6 166h1v1h-1zM53 166h1v1h-1zM669 166h1v1h-1zM738 166h1v1h-1zM5 167h1v1h-1zM54 167h1v1h-1zM668 167h1v1h-1zM739 167h1v1h-1zM4 168h1v1h-1zM55 168h1v1h-1zM667 168h1v1h-1zM739 168h1v1h-1zM56 169h2v1h-2zM666 169h1v1h-1zM740 169h1v1h-1zM58 170h1v1h-1zM664 170h2v1h-2zM741 170h1v1h-1zM59 171h1v1h-1zM663 171h1v1h-1zM741 171h1v1h-1zM60 172h1v1h-1zM662 172h1v1h-1zM742 172h1v1h-1zM61 173h1v1h-1zM661 173h1v1h-1zM743 173h1v1h-1zM62 174h1v1h-1zM659 174h2v1h-2zM743 174h1v1h-1zM63 175h1v1h-1zM656 175h3v1h-3zM744 175h1v1h-1zM64 176h1v1h-1zM654 176h2v1h-2zM745 176h1v1h-1zM65 177h1v1h-1zM652 177h2v1h-2zM745 177h1v1h-1zM66 178h1v1h-1zM650 178h2v1h-2zM746 178h1v1h-1zM67 179h1v1h-1zM648 179h2v1h-2zM747 179h1v1h-1zM68 180h1v1h-1zM647 180h1v1h-1zM747 180h1v1h-1zM69 181h1v1h-1zM645 181h2v1h-2zM748 181h1v1h-1zM70 182h1v1h-1zM643 182h2v1h-2zM749 182h1v1h-1zM70 183h1v1h-1zM641 183h2v1h-2zM750 183h1v1h-1zM71 184h1v1h-1zM639 184h2v1h-2zM751 184h1v1h-1zM72 185h1v1h-1zM637 185h2v1h-2zM752 185h1v1h-1zM73 186h1v1h-1zM635 186h2v1h-2zM752 186h1v1h-1zM74 187h1v1h-1zM633 187h2v1h-2zM753 187h1v1h-1zM74 188h1v1h-1zM631 188h2v1h-2zM754 188h1v1h-1zM75 189h1v1h-1zM629 189h2v1h-2zM755 189h1v1h-1zM76 190h1v1h-1zM628 190h1v1h-1zM756 190h1v1h-1zM77 191h1v1h-1zM627 191h1v1h-1zM757 191h1v1h-1zM78 192h1v1h-1zM626 192h1v1h-1zM758 192h1v1h-1zM79 193h1v1h-1zM625 193h1v1h-1zM759 193h1v1h-1zM80 194h1v1h-1zM624 194h1v1h-1zM760 194h1v1h-1zM80 195h1v1h-1zM624 195h1v1h-1zM761 195h1v1h-1zM81 196h1v1h-1zM623 196h1v1h-1zM762 196h1v1h-1zM82 197h1v1h-1zM622 197h1v1h-1zM763 197h1v1h-1zM83 198h1v1h-1zM621 198h1v1h-1zM764 198h1v1h-1zM84 199h1v1h-1zM620 199h1v1h-1zM765 199h1v1h-1zM85 200h1v1h-1zM619 200h1v1h-1zM766 200h1v1h-1zM86 201h1v1h-1zM619 201h1v1h-1zM767 201h1v1h-1zM86 202h1v1h-1zM618 202h1v1h-1zM768 202h1v1h-1zM87 203h1v1h-1zM617 203h1v1h-1zM769 203h1v1h-1zM88 204h1v1h-1zM616 204h1v1h-1zM770 204h1v1h-1zM89 205h1v1h-1zM616 205h1v1h-1zM771 205h1v1h-1zM90 206h1v1h-1zM615 206h1v1h-1zM772 206h1v1h-1zM90 207h1v1h-1zM614 207h1v1h-1zM773 207h1v1h-1zM91 208h1v1h-1zM613 208h1v1h-1zM774 208h1v1h-1zM92 209h1v1h-1zM613 209h1v1h-1zM775 209h1v1h-1zM93 210h1v1h-1zM611 210h2v1h-2zM776 210h1v1h-1zM93 211h1v1h-1zM609 211h2v1h-2zM776 211h1v1h-1zM94 212h1v1h-1zM607 212h2v1h-2zM777 212h1v1h-1zM94 213h1v1h-1zM203 213h10v1h-10zM594 213h6v1h-6zM605 213h2v1h-2zM778 213h1v1h-1zM95 214h1v1h-1zM200 214h3v1h-3zM213 214h2v1h-2zM590 214h4v1h-4zM600 214h5v1h-5zM779 214h1v1h-1zM95 215h1v1h-1zM198 215h2v1h-2zM215 215h1v1h-1zM587 215h3v1h-3zM780 215h1v1h-1zM96 216h1v1h-1zM186 216h12v1h-12zM216 216h2v1h-2zM585 216h2v1h-2zM781 216h1v1h-1zM96 217h1v1h-1zM182 217h4v1h-4zM218 217h2v1h-2zM583 217h2v1h-2zM781 217h1v1h-1zM97 218h1v1h-1zM180 218h2v1h-2zM220 218h1v1h-1zM581 218h2v1h-2zM782 218h1v1h-1zM97 219h1v1h-1zM179 219h1v1h-1zM221 219h1v1h-1zM580 219h1v1h-1zM783 219h1v1h-1zM98 220h1v1h-1zM178 220h1v1h-1zM222 220h1v1h-1zM579 220h1v1h-1zM783 220h1v1h-1zM98 221h1v1h-1zM177 221h1v1h-1zM222 221h1v1h-1zM578 221h1v1h-1zM784 221h1v1h-1zM99 222h1v1h-1zM176 222h1v1h-1zM223 222h1v1h-1zM576 222h2v1h-2zM785 222h1v1h-1zM99 223h1v1h-1zM175 223h1v1h-1zM224 223h1v1h-1zM575 223h1v1h-1zM785 223h1v1h-1zM100 224h1v1h-1zM174 224h1v1h-1zM225 224h1v1h-1zM574 224h1v1h-1zM786 224h1v1h-1zM101 225h1v1h-1zM173 225h1v1h-1zM226 225h1v1h-1zM573 225h1v1h-1zM787 225h1v1h-1zM101 226h1v1h-1zM172 226h1v1h-1zM226 226h1v1h-1zM572 226h1v1h-1zM787 226h1v1h-1zM102 227h1v1h-1zM170 227h2v1h-2zM227 227h1v1h-1zM570 227h2v1h-2zM788 227h1v1h-1zM102 228h1v1h-1zM168 228h2v1h-2zM228 228h1v1h-1zM568 228h2v1h-2zM789 228h2v1h-2zM103 229h1v1h-1zM167 229h1v1h-1zM229 229h1v1h-1zM567 229h1v1h-1zM791 229h1v1h-1zM104 230h1v1h-1zM165 230h2v1h-2zM230 230h1v1h-1zM565 230h2v1h-2zM792 230h2v1h-2zM104 231h1v1h-1zM164 231h1v1h-1zM231 231h1v1h-1zM564 231h1v1h-1zM794 231h2v1h-2zM105 232h1v1h-1zM163 232h1v1h-1zM232 232h1v1h-1zM563 232h1v1h-1zM796 232h2v1h-2zM106 233h1v1h-1zM162 233h1v1h-1zM233 233h1v1h-1zM562 233h1v1h-1zM798 233h4v1h-4zM106 234h1v1h-1zM160 234h2v1h-2zM234 234h1v1h-1zM561 234h1v1h-1zM802 234h3v1h-3zM107 235h1v1h-1zM159 235h1v1h-1zM235 235h1v1h-1zM560 235h1v1h-1zM805 235h1v1h-1zM107 236h1v1h-1zM158 236h1v1h-1zM236 236h1v1h-1zM560 236h1v1h-1zM806 236h2v1h-2zM108 237h2v1h-2zM157 237h1v1h-1zM237 237h1v1h-1zM559 237h1v1h-1zM808 237h1v1h-1zM110 238h2v1h-2zM156 238h1v1h-1zM238 238h1v1h-1zM558 238h1v1h-1zM809 238h1v1h-1zM112 239h3v1h-3zM154 239h2v1h-2zM238 239h1v1h-1zM557 239h1v1h-1zM810 239h2v1h-2zM115 240h3v1h-3zM153 240h1v1h-1zM239 240h1v1h-1zM556 240h1v1h-1zM812 240h1v1h-1zM118 241h2v1h-2zM152 241h1v1h-1zM240 241h1v1h-1zM555 241h1v1h-1zM813 241h2v1h-2zM120 242h3v1h-3zM150 242h2v1h-2zM241 242h1v1h-1zM554 242h1v1h-1zM815 242h1v1h-1zM123 243h3v1h-3zM149 243h1v1h-1zM242 243h1v1h-1zM553 243h1v1h-1zM816 243h2v1h-2zM126 244h2v1h-2zM147 244h2v1h-2zM242 244h1v1h-1zM552 244h1v1h-1zM818 244h2v1h-2zM128 245h3v1h-3zM144 245h3v1h-3zM243 245h1v1h-1zM551 245h1v1h-1zM820 245h4v1h-4zM131 246h5v1h-5zM142 246h2v1h-2zM244 246h1v1h-1zM550 246h1v1h-1zM824 246h5v1h-5zM136 247h6v1h-6zM245 247h1v1h-1zM549 247h1v1h-1zM829 247h1v1h-1zM246 248h2v1h-2zM548 248h1v1h-1zM830 248h2v1h-2zM248 249h1v1h-1zM547 249h1v1h-1zM832 249h1v1h-1zM249 250h1v1h-1zM546 250h1v1h-1zM833 250h1v1h-1zM250 251h2v1h-2zM546 251h1v1h-1zM834 251h2v1h-2zM252 252h1v1h-1zM545 252h1v1h-1zM836 252h1v1h-1zM253 253h1v1h-1zM544 253h1v1h-1zM837 253h1v1h-1zM254 254h1v1h-1zM543 254h1v1h-1zM838 254h2v1h-2zM255 255h1v1h-1zM542 255h1v1h-1zM840 255h1v1h-1zM256 256h2v1h-2zM542 256h1v1h-1zM841 256h1v1h-1zM258 257h1v1h-1zM541 257h1v1h-1zM842 257h2v1h-2zM259 258h1v1h-1zM540 258h1v1h-1zM844 258h1v1h-1zM260 259h1v1h-1zM539 259h1v1h-1zM845 259h2v1h-2zM261 260h1v1h-1zM538 260h1v1h-1zM847 260h1v1h-1zM262 261h1v1h-1zM537 261h1v1h-1zM848 261h2v1h-2zM263 262h1v1h-1zM536 262h1v1h-1zM850 262h2v1h-2zM264 263h1v1h-1zM535 263h1v1h-1zM852 263h1v1h-1zM265 264h1v1h-1zM534 264h1v1h-1zM853 264h1v1h-1zM266 265h1v1h-1zM533 265h1v1h-1zM853 265h1v1h-1zM267 266h1v1h-1zM532 266h1v1h-1zM854 266h1v1h-1zM268 267h1v1h-1zM531 267h1v1h-1zM855 267h1v1h-1zM269 268h1v1h-1zM531 268h1v1h-1zM856 268h1v1h-1zM270 269h1v1h-1zM530 269h1v1h-1zM856 269h1v1h-1zM270 270h1v1h-1zM529 270h1v1h-1zM857 270h1v1h-1zM271 271h1v1h-1zM528 271h1v1h-1zM858 271h1v1h-1zM272 272h1v1h-1zM528 272h1v1h-1zM859 272h1v1h-1zM273 273h1v1h-1zM527 273h1v1h-1zM859 273h1v1h-1zM274 274h1v1h-1zM526 274h1v1h-1zM860 274h1v1h-1zM274 275h1v1h-1zM525 275h1v1h-1zM861 275h1v1h-1zM275 276h1v1h-1zM525 276h1v1h-1zM862 276h1v1h-1zM276 277h1v1h-1zM524 277h1v1h-1zM863 277h1v1h-1zM277 278h1v1h-1zM523 278h1v1h-1zM864 278h1v1h-1zM278 279h1v1h-1zM362 279h4v1h-4zM523 279h1v1h-1zM864 279h1v1h-1zM279 280h1v1h-1zM358 280h4v1h-4zM366 280h2v1h-2zM522 280h1v1h-1zM865 280h1v1h-1zM280 281h1v1h-1zM355 281h3v1h-3zM368 281h3v1h-3zM522 281h1v1h-1zM866 281h1v1h-1zM281 282h1v1h-1zM353 282h2v1h-2zM371 282h2v1h-2zM521 282h1v1h-1zM867 282h1v1h-1zM282 283h1v1h-1zM351 283h2v1h-2zM373 283h2v1h-2zM521 283h1v1h-1zM868 283h1v1h-1zM283 284h1v1h-1zM349 284h2v1h-2zM375 284h2v1h-2zM520 284h1v1h-1zM869 284h1v1h-1zM284 285h1v1h-1zM348 285h1v1h-1zM377 285h2v1h-2zM520 285h1v1h-1zM870 285h1v1h-1zM285 286h1v1h-1zM346 286h2v1h-2zM379 286h11v1h-11zM519 286h1v1h-1zM870 286h1v1h-1zM286 287h1v1h-1zM345 287h1v1h-1zM390 287h4v1h-4zM519 287h1v1h-1zM871 287h1v1h-1zM287 288h1v1h-1zM344 288h1v1h-1zM394 288h4v1h-4zM518 288h1v1h-1zM872 288h1v1h-1zM288 289h1v1h-1zM342 289h2v1h-2zM398 289h4v1h-4zM518 289h1v1h-1zM873 289h1v1h-1zM289 290h1v1h-1zM341 290h1v1h-1zM402 290h3v1h-3zM517 290h1v1h-1zM874 290h1v1h-1zM290 291h1v1h-1zM340 291h1v1h-1zM405 291h2v1h-2zM517 291h1v1h-1zM874 291h1v1h-1zM291 292h1v1h-1zM339 292h1v1h-1zM407 292h2v1h-2zM516 292h1v1h-1zM875 292h1v1h-1zM292 293h2v1h-2zM338 293h1v1h-1zM409 293h2v1h-2zM424 293h8v1h-8zM515 293h1v1h-1zM876 293h1v1h-1zM294 294h2v1h-2zM337 294h1v1h-1zM411 294h13v1h-13zM432 294h5v1h-5zM514 294h1v1h-1zM877 294h1v1h-1zM296 295h3v1h-3zM336 295h1v1h-1zM437 295h2v1h-2zM513 295h1v1h-1zM878 295h1v1h-1zM299 296h2v1h-2zM335 296h1v1h-1zM439 296h2v1h-2zM512 296h1v1h-1zM879 296h1v1h-1zM301 297h2v1h-2zM334 297h1v1h-1zM441 297h2v1h-2zM512 297h1v1h-1zM880 297h1v1h-1zM303 298h2v1h-2zM333 298h1v1h-1zM443 298h2v1h-2zM511 298h1v1h-1zM880 298h1v1h-1zM305 299h2v1h-2zM332 299h1v1h-1zM445 299h2v1h-2zM510 299h1v1h-1zM881 299h1v1h-1zM307 300h2v1h-2zM330 300h2v1h-2zM447 300h1v1h-1zM509 300h1v1h-1zM882 300h1v1h-1zM309 301h2v1h-2zM329 301h1v1h-1zM448 301h2v1h-2zM507 301h2v1h-2zM883 301h1v1h-1zM311 302h1v1h-1zM328 302h1v1h-1zM450 302h2v1h-2zM505 302h2v1h-2zM884 302h1v1h-1zM312 303h2v1h-2zM326 303h2v1h-2zM452 303h1v1h-1zM503 303h2v1h-2zM885 303h1v1h-1zM314 304h2v1h-2zM325 304h1v1h-1zM453 304h1v1h-1zM501 304h2v1h-2zM885 304h1v1h-1zM316 305h9v1h-9zM454 305h1v1h-1zM500 305h1v1h-1zM886 305h1v1h-1zM455 306h1v1h-1zM499 306h1v1h-1zM886 306h1v1h-1zM456 307h1v1h-1zM498 307h1v1h-1zM887 307h1v1h-1zM457 308h1v1h-1zM496 308h2v1h-2zM887 308h1v1h-1zM458 309h1v1h-1zM495 309h1v1h-1zM888 309h1v1h-1zM459 310h1v1h-1zM494 310h1v1h-1zM888 310h1v1h-1zM460 311h1v1h-1zM493 311h1v1h-1zM889 311h1v1h-1zM461 312h2v1h-2zM492 312h1v1h-1zM889 312h1v1h-1zM463 313h1v1h-1zM491 313h1v1h-1zM890 313h1v1h-1zM464 314h2v1h-2zM490 314h1v1h-1zM890 314h1v1h-1zM466 315h2v1h-2zM488 315h2v1h-2zM891 315h1v1h-1zM468 316h2v1h-2zM487 316h1v1h-1zM891 316h1v1h-1zM470 317h2v1h-2zM486 317h1v1h-1zM892 317h1v1h-1zM472 318h3v1h-3zM485 318h1v1h-1zM893 318h1v1h-1zM475 319h10v1h-10zM893 319h1v1h-1zM894 320h1v1h-1zM895 321h1v1h-1zM896 322h1v1h-1zM896 323h1v1h-1zM897 324h1v1h-1zM979 324h10v1h-10zM898 325h1v1h-1zM977 325h2v1h-2zM989 325h2v1h-2zM1008 325h6v1h-6zM899 326h1v1h-1zM975 326h2v1h-2zM991 326h2v1h-2zM1002 326h6v1h-6zM1014 326h2v1h-2zM899 327h1v1h-1zM973 327h2v1h-2zM993 327h2v1h-2zM998 327h4v1h-4zM1016 327h3v1h-3zM900 328h1v1h-1zM972 328h1v1h-1zM995 328h3v1h-3zM1019 328h10v1h-10zM901 329h1v1h-1zM971 329h1v1h-1zM1029 329h1v1h-1zM902 330h1v1h-1zM970 330h1v1h-1zM1029 330h1v1h-1zM903 331h1v1h-1zM968 331h2v1h-2zM1030 331h1v1h-1zM904 332h1v1h-1zM967 332h1v1h-1zM1031 332h1v1h-1zM904 333h1v1h-1zM966 333h1v1h-1zM1031 333h1v1h-1zM905 334h1v1h-1zM965 334h1v1h-1zM1032 334h1v1h-1zM906 335h1v1h-1zM964 335h1v1h-1zM1033 335h1v1h-1zM907 336h1v1h-1zM962 336h2v1h-2zM1033 336h1v1h-1zM908 337h1v1h-1zM960 337h2v1h-2zM1034 337h1v1h-1zM909 338h1v1h-1zM959 338h1v1h-1zM1035 338h1v1h-1zM909 339h1v1h-1zM957 339h2v1h-2zM1035 339h1v1h-1zM910 340h1v1h-1zM956 340h1v1h-1zM1036 340h1v1h-1zM911 341h1v1h-1zM954 341h2v1h-2zM1037 341h1v1h-1zM911 342h1v1h-1zM952 342h2v1h-2zM1038 342h1v1h-1zM912 343h1v1h-1zM951 343h1v1h-1zM1038 343h1v1h-1zM913 344h1v1h-1zM949 344h2v1h-2zM1039 344h1v1h-1zM913 345h1v1h-1zM947 345h2v1h-2zM1040 345h1v1h-1zM914 346h1v1h-1zM944 346h3v1h-3zM1041 346h1v1h-1zM915 347h1v1h-1zM922 347h6v1h-6zM942 347h2v1h-2zM1042 347h1v1h-1zM915 348h1v1h-1zM918 348h4v1h-4zM928 348h14v1h-14zM1042 348h1v1h-1zM916 349h2v1h-2zM1043 349h1v1h-1zM1044 350h1v1h-1zM1045 351h2v1h-2zM1047 352h1v1h-1zM1048 353h2v1h-2zM1050 354h2v1h-2zM1052 355h2v1h-2zM1054 356h2v1h-2zM1056 357h3v1h-3zM1059 358h2v1h-2zM1061 359h1v1h-1zM1062 360h1v1h-1zM1063 361h1v1h-1zM1064 362h1v1h-1zM1064 363h1v1h-1zM1065 364h1v1h-1zM1066 365h1v1h-1zM1067 366h1v1h-1zM1068 367h1v1h-1zM1069 368h1v1h-1zM1070 369h1v1h-1zM1071 370h1v1h-1zM1072 371h1v1h-1zM1072 372h1v1h-1zM1073 373h1v1h-1zM1074 374h1v1h-1zM1075 375h1v1h-1zM1076 376h1v1h-1zM1077 377h1v1h-1zM1078 378h1v1h-1zM1078 379h1v1h-1zM1079 380h1v1h-1zM1080 381h1v1h-1zM1081 382h1v1h-1zM1082 383h1v1h-1zM1082 384h1v1h-1zM1083 385h1v1h-1zM1084 386h1v1h-1zM1085 387h1v1h-1zM1086 388h1v1h-1zM1086 389h1v1h-1zM1087 390h1v1h-1zM1088 391h1v1h-1zM1089 392h1v1h-1zM1090 393h1v1h-1zM1090 394h1v1h-1zM1091 395h1v1h-1zM1092 396h1v1h-1zM1093 397h1v1h-1zM1093 398h1v1h-1zM1094 399h1v1h-1zM1094 400h1v1h-1zM1095 401h1v1h-1zM1096 402h1v1h-1zM1096 403h1v1h-1zM1097 404h1v1h-1zM1098 405h1v1h-1zM1098 406h1v1h-1zM1099 407h1v1h-1zM1099 408h1v1h-1zM1100 409h1v1h-1zM1101 410h1v1h-1zM1102 411h1v1h-1zM1103 412h1v1h-1zM1104 413h1v1h-1zM1104 414h1v1h-1zM1105 415h1v1h-1zM1106 416h1v1h-1zM1107 417h1v1h-1zM1108 418h1v1h-1zM1109 419h1v1h-1zM1110 420h1v1h-1zM1111 421h1v1h-1zM1112 422h1v1h-1zM1112 423h1v1h-1zM1113 424h1v1h-1zM1114 425h1v1h-1zM1115 426h1v1h-1zM1116 427h1v1h-1z" fill="#ff0000" shape-rendering="crispEdges"/>
<path d="M668 88h2v1h-2zM667 89h1v1h-1zM670 89h4v1h-4zM667 90h1v1h-1zM674 90h3v1h-3zM666 91h1v1h-1zM677 91h1v1h-1zM666 92h1v1h-1zM677 92h1v1h-1zM665 93h1v1h-1zM678 93h1v1h-1zM664 94h1v1h-1zM678 94h1v1h-1zM664 95h1v1h-1zM679 95h1v1h-1zM663 96h1v1h-1zM679 96h1v1h-1zM662 97h1v1h-1zM680 97h1v1h-1zM662 98h1v1h-1zM680 98h1v1h-1zM661 99h1v1h-1zM681 99h1v1h-1zM661 100h1v1h-1zM681 100h1v1h-1zM660 101h1v1h-1zM682 101h1v1h-1zM660 102h1v1h-1zM682 102h1v1h-1zM659 103h1v1h-1zM683 103h1v1h-1zM659 104h1v1h-1zM683 104h1v1h-1zM659 105h1v1h-1zM684 105h1v1h-1zM658 106h1v1h-1zM684 106h1v1h-1zM658 107h1v1h-1zM685 107h1v1h-1zM657 108h1v1h-1zM685 108h1v1h-1zM657 109h1v1h-1zM686 109h1v1h-1zM657 110h1v1h-1zM686 110h1v1h-1zM656 111h1v1h-1zM687 111h1v1h-1zM656 112h1v1h-1zM687 112h1v1h-1zM656 113h1v1h-1zM688 113h1v1h-1zM655 114h1v1h-1zM688 114h1v1h-1zM655 115h1v1h-1zM688 115h1v1h-1zM655 116h1v1h-1zM689 116h1v1h-1zM654 117h1v1h-1zM689 117h1v1h-1zM654 118h1v1h-1zM690 118h1v1h-1zM653 119h1v1h-1zM690 119h1v1h-1zM653 120h1v1h-1zM691 120h1v1h-1zM653 121h1v1h-1zM691 121h1v1h-1zM652 122h1v1h-1zM692 122h1v1h-1zM4 123h2v1h-2zM652 123h1v1h-1zM692 123h1v1h-1zM6 124h2v1h-2zM652 124h1v1h-1zM693 124h1v1h-1zM8 125h3v1h-3zM651 125h1v1h-1zM693 125h1v1h-1zM11 126h3v1h-3zM651 126h1v1h-1zM694 126h1v1h-1zM14 127h4v1h-4zM651 127h1v1h-1zM695 127h1v1h-1zM18 128h3v1h-3zM651 128h1v1h-1zM695 128h1v1h-1zM21 129h1v1h-1zM650 129h1v1h-1zM696 129h1v1h-1zM22 130h1v1h-1zM650 130h1v1h-1zM697 130h1v1h-1zM23 131h1v1h-1zM650 131h1v1h-1zM697 131h1v1h-1zM24 132h1v1h-1zM649 132h1v1h-1zM698 132h1v1h-1zM24 133h1v1h-1zM649 133h1v1h-1zM699 133h1v1h-1zM25 134h1v1h-1zM649 134h1v1h-1zM699 134h1v1h-1zM26 135h1v1h-1zM649 135h1v1h-1zM700 135h1v1h-1zM27 136h1v1h-1zM648 136h1v1h-1zM701 136h1v1h-1zM28 137h1v1h-1zM648 137h1v1h-1zM701 137h1v1h-1zM29 138h1v1h-1zM648 138h1v1h-1zM702 138h1v1h-1zM29 139h1v1h-1zM647 139h1v1h-1zM702 139h1v1h-1zM30 140h1v1h-1zM647 140h1v1h-1zM703 140h1v1h-1zM30 141h1v1h-1zM647 141h1v1h-1zM703 141h1v1h-1zM31 142h1v1h-1zM647 142h1v1h-1zM704 142h1v1h-1zM31 143h1v1h-1zM646 143h1v1h-1zM705 143h1v1h-1zM32 144h1v1h-1zM646 144h1v1h-1zM705 144h1v1h-1zM32 145h1v1h-1zM646 145h1v1h-1zM706 145h1v1h-1zM33 146h1v1h-1zM645 146h1v1h-1zM706 146h1v1h-1zM33 147h1v1h-1zM645 147h1v1h-1zM707 147h1v1h-1zM34 148h1v1h-1zM645 148h1v1h-1zM707 148h1v1h-1zM34 149h1v1h-1zM645 149h1v1h-1zM708 149h1v1h-1zM35 150h1v1h-1zM644 150h1v1h-1zM708 150h1v1h-1zM35 151h1v1h-1zM644 151h1v1h-1zM709 151h1v1h-1zM36 152h1v1h-1zM644 152h1v1h-1zM709 152h1v1h-1zM36 153h1v1h-1zM643 153h1v1h-1zM709 153h1v1h-1zM37 154h1v1h-1zM643 154h1v1h-1zM710 154h1v1h-1zM37 155h1v1h-1zM643 155h1v1h-1zM710 155h1v1h-1zM37 156h1v1h-1zM642 156h1v1h-1zM710 156h1v1h-1zM37 157h1v1h-1zM642 157h1v1h-1zM711 157h1v1h-1zM38 158h1v1h-1zM642 158h1v1h-1zM711 158h1v1h-1zM38 159h1v1h-1zM641 159h1v1h-1zM711 159h1v1h-1zM38 160h1v1h-1zM641 160h1v1h-1zM712 160h1v1h-1zM39 161h1v1h-1zM641 161h1v1h-1zM712 161h1v1h-1zM39 162h1v1h-1zM640 162h1v1h-1zM712 162h1v1h-1zM39 163h1v1h-1zM640 163h1v1h-1zM713 163h1v1h-1zM39 164h1v1h-1zM639 164h1v1h-1zM713 164h1v1h-1zM40 165h1v1h-1zM639 165h1v1h-1zM713 165h1v1h-1zM40 166h1v1h-1zM639 166h1v1h-1zM714 166h1v1h-1zM40 167h1v1h-1zM564 167h1v1h-1zM638 167h1v1h-1zM714 167h1v1h-1zM41 168h1v1h-1zM563 168h1v1h-1zM565 168h1v1h-1zM638 168h1v1h-1zM714 168h1v1h-1zM41 169h1v1h-1zM562 169h1v1h-1zM565 169h1v1h-1zM638 169h1v1h-1zM715 169h1v1h-1zM41 170h1v1h-1zM561 170h1v1h-1zM566 170h1v1h-1zM637 170h1v1h-1zM715 170h1v1h-1zM41 171h1v1h-1zM560 171h1v1h-1zM567 171h1v1h-1zM637 171h1v1h-1zM715 171h1v1h-1zM42 172h1v1h-1zM559 172h1v1h-1zM568 172h1v1h-1zM637 172h1v1h-1zM716 172h1v1h-1zM42 173h1v1h-1zM558 173h1v1h-1zM568 173h1v1h-1zM636 173h1v1h-1zM716 173h1v1h-1zM42 174h1v1h-1zM557 174h1v1h-1zM569 174h1v1h-1zM636 174h1v1h-1zM716 174h1v1h-1zM43 175h1v1h-1zM556 175h1v1h-1zM570 175h1v1h-1zM636 175h1v1h-1zM717 175h1v1h-1zM43 176h1v1h-1zM554 176h2v1h-2zM571 176h1v1h-1zM635 176h1v1h-1zM717 176h1v1h-1zM43 177h1v1h-1zM553 177h1v1h-1zM571 177h1v1h-1zM635 177h1v1h-1zM717 177h1v1h-1zM43 178h1v1h-1zM552 178h1v1h-1zM572 178h1v1h-1zM635 178h1v1h-1zM718 178h1v1h-1zM44 179h1v1h-1zM550 179h2v1h-2zM572 179h1v1h-1zM635 179h1v1h-1zM718 179h1v1h-1zM44 180h1v1h-1zM549 180h1v1h-1zM573 180h1v1h-1zM634 180h1v1h-1zM718 180h1v1h-1zM44 181h1v1h-1zM548 181h1v1h-1zM573 181h1v1h-1zM634 181h1v1h-1zM719 181h1v1h-1zM45 182h1v1h-1zM547 182h1v1h-1zM574 182h1v1h-1zM634 182h1v1h-1zM719 182h1v1h-1zM45 183h1v1h-1zM547 183h1v1h-1zM574 183h1v1h-1zM634 183h1v1h-1zM719 183h1v1h-1zM45 184h1v1h-1zM546 184h1v1h-1zM574 184h1v1h-1zM633 184h1v1h-1zM720 184h1v1h-1zM45 185h1v1h-1zM546 185h1v1h-1zM575 185h1v1h-1zM633 185h1v1h-1zM720 185h1v1h-1zM46 186h1v1h-1zM545 186h1v1h-1zM575 186h1v1h-1zM633 186h1v1h-1zM720 186h1v1h-1zM46 187h1v1h-1zM180 187h1v1h-1zM545 187h1v1h-1zM576 187h1v1h-1zM632 187h1v1h-1zM721 187h1v1h-1zM46 188h1v1h-1zM178 188h2v1h-2zM181 188h1v1h-1zM544 188h1v1h-1zM576 188h1v1h-1zM632 188h1v1h-1zM721 188h1v1h-1zM46 189h1v1h-1zM176 189h2v1h-2zM182 189h1v1h-1zM543 189h1v1h-1zM576 189h1v1h-1zM632 189h1v1h-1zM721 189h1v1h-1zM47 190h1v1h-1zM175 190h1v1h-1zM183 190h1v1h-1zM543 190h1v1h-1zM577 190h1v1h-1zM632 190h1v1h-1zM722 190h1v1h-1zM47 191h1v1h-1zM173 191h2v1h-2zM184 191h2v1h-2zM542 191h1v1h-1zM577 191h1v1h-1zM631 191h1v1h-1zM722 191h1v1h-1zM47 192h1v1h-1zM172 192h1v1h-1zM186 192h1v1h-1zM542 192h1v1h-1zM578 192h1v1h-1zM631 192h1v1h-1zM722 192h1v1h-1zM47 193h1v1h-1zM170 193h2v1h-2zM187 193h1v1h-1zM541 193h1v1h-1zM578 193h1v1h-1zM631 193h1v1h-1zM723 193h1v1h-1zM48 194h1v1h-1zM168 194h2v1h-2zM188 194h2v1h-2zM541 194h1v1h-1zM578 194h1v1h-1zM630 194h1v1h-1zM723 194h1v1h-1zM48 195h1v1h-1zM167 195h1v1h-1zM190 195h2v1h-2zM540 195h1v1h-1zM579 195h1v1h-1zM630 195h1v1h-1zM723 195h1v1h-1zM48 196h1v1h-1zM165 196h2v1h-2zM192 196h3v1h-3zM540 196h1v1h-1zM579 196h1v1h-1zM630 196h1v1h-1zM724 196h1v1h-1zM49 197h1v1h-1zM164 197h1v1h-1zM195 197h2v1h-2zM539 197h1v1h-1zM580 197h1v1h-1zM630 197h1v1h-1zM724 197h1v1h-1zM49 198h1v1h-1zM163 198h1v1h-1zM197 198h1v1h-1zM539 198h1v1h-1zM580 198h1v1h-1zM629 198h1v1h-1zM724 198h1v1h-1zM49 199h1v1h-1zM163 199h1v1h-1zM198 199h2v1h-2zM539 199h1v1h-1zM581 199h1v1h-1zM629 199h1v1h-1zM725 199h1v1h-1zM49 200h1v1h-1zM162 200h1v1h-1zM200 200h1v1h-1zM538 200h1v1h-1zM581 200h1v1h-1zM629 200h1v1h-1zM725 200h1v1h-1zM50 201h1v1h-1zM162 201h1v1h-1zM201 201h1v1h-1zM538 201h1v1h-1zM582 201h1v1h-1zM629 201h1v1h-1zM725 201h1v1h-1zM50 202h1v1h-1zM161 202h1v1h-1zM202 202h2v1h-2zM537 202h1v1h-1zM582 202h1v1h-1zM628 202h1v1h-1zM726 202h1v1h-1zM50 203h1v1h-1zM161 203h1v1h-1zM204 203h1v1h-1zM537 203h1v1h-1zM583 203h1v1h-1zM628 203h1v1h-1zM726 203h1v1h-1zM50 204h1v1h-1zM160 204h1v1h-1zM205 204h1v1h-1zM537 204h1v1h-1zM583 204h1v1h-1zM628 204h1v1h-1zM726 204h1v1h-1zM51 205h1v1h-1zM159 205h1v1h-1zM205 205h1v1h-1zM536 205h1v1h-1zM584 205h1v1h-1zM627 205h1v1h-1zM727 205h1v1h-1zM51 206h1v1h-1zM159 206h1v1h-1zM206 206h1v1h-1zM536 206h1v1h-1zM584 206h1v1h-1zM627 206h1v1h-1zM727 206h1v1h-1zM51 207h1v1h-1zM158 207h1v1h-1zM207 207h1v1h-1zM536 207h1v1h-1zM585 207h1v1h-1zM627 207h1v1h-1zM727 207h1v1h-1zM51 208h1v1h-1zM158 208h1v1h-1zM207 208h1v1h-1zM535 208h1v1h-1zM585 208h1v1h-1zM627 208h1v1h-1zM728 208h1v1h-1zM52 209h1v1h-1zM157 209h1v1h-1zM208 209h1v1h-1zM535 209h1v1h-1zM586 209h1v1h-1zM626 209h1v1h-1zM728 209h1v1h-1zM52 210h1v1h-1zM157 210h1v1h-1zM209 210h1v1h-1zM535 210h1v1h-1zM586 210h1v1h-1zM626 210h1v1h-1zM729 210h1v1h-1zM53 211h1v1h-1zM156 211h1v1h-1zM209 211h1v1h-1zM534 211h1v1h-1zM587 211h1v1h-1zM626 211h1v1h-1zM729 211h1v1h-1zM53 212h1v1h-1zM155 212h1v1h-1zM210 212h1v1h-1zM534 212h1v1h-1zM587 212h1v1h-1zM625 212h1v1h-1zM729 212h1v1h-1zM54 213h1v1h-1zM155 213h1v1h-1zM211 213h1v1h-1zM533 213h1v1h-1zM588 213h1v1h-1zM625 213h1v1h-1zM730 213h1v1h-1zM55 214h1v1h-1zM154 214h1v1h-1zM211 214h1v1h-1zM533 214h1v1h-1zM588 214h1v1h-1zM625 214h1v1h-1zM730 214h1v1h-1zM56 215h1v1h-1zM154 215h1v1h-1zM212 215h1v1h-1zM533 215h1v1h-1zM589 215h1v1h-1zM625 215h1v1h-1zM730 215h1v1h-1zM56 216h1v1h-1zM153 216h1v1h-1zM212 216h1v1h-1zM532 216h1v1h-1zM589 216h1v1h-1zM624 216h1v1h-1zM731 216h1v1h-1zM57 217h1v1h-1zM152 217h1v1h-1zM213 217h1v1h-1zM532 217h1v1h-1zM590 217h1v1h-1zM624 217h1v1h-1zM731 217h1v1h-1zM58 218h1v1h-1zM152 218h1v1h-1zM213 218h1v1h-1zM532 218h1v1h-1zM590 218h1v1h-1zM624 218h1v1h-1zM731 218h1v1h-1zM59 219h1v1h-1zM151 219h1v1h-1zM213 219h1v1h-1zM531 219h1v1h-1zM591 219h1v1h-1zM623 219h1v1h-1zM732 219h1v1h-1zM59 220h1v1h-1zM150 220h1v1h-1zM214 220h1v1h-1zM531 220h1v1h-1zM591 220h1v1h-1zM623 220h1v1h-1zM732 220h1v1h-1zM60 221h1v1h-1zM150 221h1v1h-1zM214 221h1v1h-1zM531 221h1v1h-1zM592 221h1v1h-1zM623 221h1v1h-1zM733 221h1v1h-1zM61 222h1v1h-1zM149 222h1v1h-1zM214 222h1v1h-1zM530 222h1v1h-1zM592 222h1v1h-1zM623 222h1v1h-1zM733 222h1v1h-1zM61 223h1v1h-1zM149 223h1v1h-1zM215 223h1v1h-1zM530 223h1v1h-1zM592 223h1v1h-1zM622 223h1v1h-1zM734 223h1v1h-1zM62 224h1v1h-1zM148 224h1v1h-1zM215 224h1v1h-1zM530 224h1v1h-1zM593 224h1v1h-1zM622 224h1v1h-1zM734 224h1v1h-1zM62 225h1v1h-1zM147 225h1v1h-1zM215 225h1v1h-1zM529 225h1v1h-1zM593 225h1v1h-1zM622 225h1v1h-1zM735 225h1v1h-1zM63 226h1v1h-1zM147 226h1v1h-1zM216 226h1v1h-1zM529 226h1v1h-1zM594 226h1v1h-1zM621 226h1v1h-1zM736 226h1v1h-1zM63 227h1v1h-1zM146 227h1v1h-1zM216 227h1v1h-1zM529 227h1v1h-1zM594 227h1v1h-1zM621 227h1v1h-1zM736 227h1v1h-1zM64 228h1v1h-1zM145 228h1v1h-1zM216 228h1v1h-1zM528 228h1v1h-1zM595 228h1v1h-1zM621 228h1v1h-1zM737 228h1v1h-1zM64 229h1v1h-1zM145 229h1v1h-1zM217 229h1v1h-1zM528 229h1v1h-1zM595 229h1v1h-1zM621 229h1v1h-1zM738 229h1v1h-1zM65 230h1v1h-1zM144 230h1v1h-1zM217 230h1v1h-1zM527 230h1v1h-1zM596 230h1v1h-1zM620 230h1v1h-1zM738 230h1v1h-1zM795 230h10v1h-10zM65 231h1v1h-1zM143 231h1v1h-1zM217 231h1v1h-1zM527 231h1v1h-1zM596 231h1v1h-1zM620 231h1v1h-1zM739 231h1v1h-1zM793 231h2v1h-2zM805 231h2v1h-2zM66 232h1v1h-1zM143 232h1v1h-1zM218 232h1v1h-1zM527 232h1v1h-1zM597 232h1v1h-1zM619 232h1v1h-1zM739 232h1v1h-1zM791 232h2v1h-2zM807 232h1v1h-1zM66 233h1v1h-1zM142 233h1v1h-1zM218 233h1v1h-1zM526 233h1v1h-1zM597 233h1v1h-1zM619 233h1v1h-1zM740 233h1v1h-1zM789 233h2v1h-2zM808 233h2v1h-2zM67 234h1v1h-1zM141 234h1v1h-1zM218 234h1v1h-1zM526 234h1v1h-1zM598 234h1v1h-1zM618 234h1v1h-1zM741 234h1v1h-1zM780 234h9v1h-9zM810 234h2v1h-2zM67 235h1v1h-1zM141 235h1v1h-1zM219 235h1v1h-1zM526 235h1v1h-1zM598 235h1v1h-1zM618 235h1v1h-1zM742 235h2v1h-2zM778 235h2v1h-2zM812 235h1v1h-1zM68 236h1v1h-1zM138 236h3v1h-3zM219 236h1v1h-1zM525 236h1v1h-1zM599 236h1v1h-1zM617 236h1v1h-1zM744 236h1v1h-1zM776 236h2v1h-2zM813 236h1v1h-1zM68 237h1v1h-1zM134 237h4v1h-4zM219 237h1v1h-1zM525 237h1v1h-1zM599 237h1v1h-1zM617 237h1v1h-1zM745 237h1v1h-1zM775 237h1v1h-1zM814 237h1v1h-1zM69 238h1v1h-1zM132 238h2v1h-2zM220 238h1v1h-1zM525 238h1v1h-1zM600 238h1v1h-1zM616 238h1v1h-1zM746 238h2v1h-2zM773 238h2v1h-2zM815 238h1v1h-1zM69 239h1v1h-1zM131 239h1v1h-1zM220 239h1v1h-1zM524 239h1v1h-1zM600 239h1v1h-1zM615 239h1v1h-1zM748 239h1v1h-1zM772 239h1v1h-1zM816 239h1v1h-1zM70 240h1v1h-1zM131 240h1v1h-1zM220 240h1v1h-1zM524 240h1v1h-1zM601 240h1v1h-1zM615 240h1v1h-1zM749 240h2v1h-2zM771 240h1v1h-1zM816 240h1v1h-1zM70 241h1v1h-1zM130 241h1v1h-1zM221 241h1v1h-1zM524 241h1v1h-1zM601 241h1v1h-1zM614 241h1v1h-1zM751 241h1v1h-1zM770 241h1v1h-1zM817 241h1v1h-1zM71 242h1v1h-1zM129 242h1v1h-1zM221 242h1v1h-1zM524 242h1v1h-1zM602 242h1v1h-1zM614 242h1v1h-1zM752 242h2v1h-2zM769 242h1v1h-1zM818 242h1v1h-1zM71 243h1v1h-1zM129 243h1v1h-1zM221 243h1v1h-1zM523 243h1v1h-1zM602 243h1v1h-1zM613 243h1v1h-1zM754 243h2v1h-2zM768 243h1v1h-1zM819 243h1v1h-1zM72 244h1v1h-1zM128 244h1v1h-1zM222 244h1v1h-1zM523 244h1v1h-1zM603 244h1v1h-1zM613 244h1v1h-1zM756 244h2v1h-2zM767 244h1v1h-1zM820 244h1v1h-1zM72 245h1v1h-1zM127 245h1v1h-1zM222 245h1v1h-1zM523 245h1v1h-1zM603 245h1v1h-1zM608 245h5v1h-5zM758 245h2v1h-2zM766 245h1v1h-1zM821 245h1v1h-1zM72 246h1v1h-1zM127 246h1v1h-1zM222 246h1v1h-1zM523 246h1v1h-1zM604 246h4v1h-4zM760 246h3v1h-3zM765 246h1v1h-1zM822 246h1v1h-1zM73 247h1v1h-1zM126 247h1v1h-1zM223 247h1v1h-1zM522 247h1v1h-1zM763 247h2v1h-2zM822 247h1v1h-1zM73 248h1v1h-1zM125 248h1v1h-1zM223 248h1v1h-1zM522 248h1v1h-1zM823 248h1v1h-1zM74 249h1v1h-1zM125 249h1v1h-1zM223 249h1v1h-1zM522 249h1v1h-1zM824 249h1v1h-1zM74 250h1v1h-1zM124 250h1v1h-1zM224 250h1v1h-1zM522 250h1v1h-1zM825 250h1v1h-1zM75 251h1v1h-1zM123 251h1v1h-1zM224 251h1v1h-1zM521 251h1v1h-1zM826 251h1v1h-1zM75 252h1v1h-1zM122 252h1v1h-1zM224 252h1v1h-1zM521 252h1v1h-1zM826 252h1v1h-1zM76 253h1v1h-1zM122 253h1v1h-1zM225 253h1v1h-1zM521 253h1v1h-1zM827 253h1v1h-1zM76 254h1v1h-1zM121 254h1v1h-1zM225 254h1v1h-1zM521 254h1v1h-1zM828 254h1v1h-1zM77 255h2v1h-2zM120 255h1v1h-1zM225 255h1v1h-1zM520 255h1v1h-1zM828 255h1v1h-1zM79 256h2v1h-2zM119 256h1v1h-1zM226 256h1v1h-1zM520 256h1v1h-1zM829 256h1v1h-1zM81 257h2v1h-2zM118 257h1v1h-1zM226 257h1v1h-1zM520 257h1v1h-1zM829 257h1v1h-1zM83 258h2v1h-2zM118 258h1v1h-1zM226 258h1v1h-1zM520 258h1v1h-1zM830 258h1v1h-1zM85 259h2v1h-2zM117 259h1v1h-1zM227 259h1v1h-1zM519 259h1v1h-1zM830 259h1v1h-1zM87 260h1v1h-1zM116 260h1v1h-1zM227 260h1v1h-1zM519 260h1v1h-1zM831 260h1v1h-1zM88 261h2v1h-2zM114 261h2v1h-2zM227 261h1v1h-1zM519 261h1v1h-1zM831 261h1v1h-1zM90 262h2v1h-2zM112 262h2v1h-2zM228 262h1v1h-1zM519 262h1v1h-1zM832 262h1v1h-1zM92 263h2v1h-2zM111 263h1v1h-1zM228 263h1v1h-1zM518 263h1v1h-1zM832 263h1v1h-1zM94 264h4v1h-4zM109 264h2v1h-2zM228 264h1v1h-1zM518 264h1v1h-1zM833 264h1v1h-1zM98 265h11v1h-11zM229 265h1v1h-1zM518 265h1v1h-1zM833 265h1v1h-1zM229 266h1v1h-1zM363 266h2v1h-2zM518 266h1v1h-1zM834 266h1v1h-1zM229 267h1v1h-1zM360 267h3v1h-3zM365 267h2v1h-2zM517 267h1v1h-1zM834 267h1v1h-1zM230 268h1v1h-1zM358 268h2v1h-2zM367 268h2v1h-2zM517 268h1v1h-1zM835 268h1v1h-1zM230 269h1v1h-1zM348 269h10v1h-10zM369 269h2v1h-2zM517 269h1v1h-1zM835 269h1v1h-1zM230 270h1v1h-1zM347 270h1v1h-1zM371 270h2v1h-2zM517 270h1v1h-1zM836 270h1v1h-1zM231 271h1v1h-1zM346 271h1v1h-1zM373 271h1v1h-1zM516 271h1v1h-1zM836 271h1v1h-1zM231 272h1v1h-1zM344 272h2v1h-2zM374 272h1v1h-1zM516 272h1v1h-1zM837 272h1v1h-1zM231 273h1v1h-1zM343 273h1v1h-1zM375 273h1v1h-1zM516 273h1v1h-1zM837 273h1v1h-1zM232 274h1v1h-1zM342 274h1v1h-1zM376 274h1v1h-1zM516 274h1v1h-1zM838 274h1v1h-1zM232 275h1v1h-1zM341 275h1v1h-1zM376 275h1v1h-1zM515 275h1v1h-1zM839 275h1v1h-1zM972 275h1v1h-1zM233 276h1v1h-1zM340 276h1v1h-1zM377 276h1v1h-1zM515 276h1v1h-1zM840 276h1v1h-1zM972 276h2v1h-2zM233 277h1v1h-1zM339 277h1v1h-1zM378 277h1v1h-1zM515 277h1v1h-1zM840 277h1v1h-1zM971 277h1v1h-1zM974 277h1v1h-1zM233 278h1v1h-1zM338 278h1v1h-1zM379 278h1v1h-1zM514 278h1v1h-1zM841 278h1v1h-1zM971 278h1v1h-1zM974 278h1v1h-1zM234 279h1v1h-1zM336 279h2v1h-2zM380 279h1v1h-1zM514 279h1v1h-1zM842 279h1v1h-1zM970 279h1v1h-1zM975 279h1v1h-1zM234 280h1v1h-1zM335 280h1v1h-1zM381 280h1v1h-1zM514 280h1v1h-1zM843 280h1v1h-1zM970 280h1v1h-1zM976 280h1v1h-1zM234 281h1v1h-1zM334 281h1v1h-1zM381 281h1v1h-1zM513 281h1v1h-1zM843 281h1v1h-1zM969 281h1v1h-1zM977 281h1v1h-1zM235 282h1v1h-1zM333 282h1v1h-1zM382 282h1v1h-1zM513 282h1v1h-1zM844 282h1v1h-1zM969 282h1v1h-1zM978 282h1v1h-1zM235 283h1v1h-1zM332 283h1v1h-1zM383 283h1v1h-1zM513 283h1v1h-1zM845 283h1v1h-1zM968 283h1v1h-1zM978 283h1v1h-1zM235 284h1v1h-1zM331 284h1v1h-1zM384 284h1v1h-1zM512 284h1v1h-1zM845 284h1v1h-1zM968 284h1v1h-1zM979 284h1v1h-1zM236 285h1v1h-1zM330 285h1v1h-1zM384 285h1v1h-1zM512 285h1v1h-1zM846 285h1v1h-1zM967 285h1v1h-1zM980 285h1v1h-1zM236 286h1v1h-1zM329 286h1v1h-1zM385 286h1v1h-1zM511 286h1v1h-1zM846 286h1v1h-1zM967 286h1v1h-1zM981 286h1v1h-1zM237 287h1v1h-1zM328 287h1v1h-1zM386 287h1v1h-1zM511 287h1v1h-1zM847 287h1v1h-1zM966 287h1v1h-1zM982 287h1v1h-1zM237 288h1v1h-1zM328 288h1v1h-1zM387 288h1v1h-1zM511 288h1v1h-1zM847 288h1v1h-1zM966 288h1v1h-1zM982 288h1v1h-1zM238 289h1v1h-1zM327 289h1v1h-1zM387 289h1v1h-1zM510 289h1v1h-1zM848 289h1v1h-1zM965 289h1v1h-1zM983 289h1v1h-1zM238 290h1v1h-1zM326 290h1v1h-1zM388 290h1v1h-1zM510 290h1v1h-1zM849 290h1v1h-1zM965 290h1v1h-1zM984 290h1v1h-1zM239 291h1v1h-1zM325 291h1v1h-1zM389 291h1v1h-1zM510 291h1v1h-1zM849 291h1v1h-1zM964 291h1v1h-1zM985 291h1v1h-1zM240 292h1v1h-1zM304 292h6v1h-6zM323 292h2v1h-2zM389 292h1v1h-1zM509 292h1v1h-1zM850 292h1v1h-1zM964 292h1v1h-1zM986 292h1v1h-1zM240 293h1v1h-1zM300 293h4v1h-4zM310 293h2v1h-2zM320 293h3v1h-3zM390 293h1v1h-1zM509 293h1v1h-1zM850 293h1v1h-1zM963 293h1v1h-1zM986 293h1v1h-1zM241 294h1v1h-1zM299 294h1v1h-1zM312 294h3v1h-3zM318 294h2v1h-2zM391 294h1v1h-1zM509 294h1v1h-1zM851 294h1v1h-1zM963 294h1v1h-1zM987 294h1v1h-1zM242 295h1v1h-1zM298 295h1v1h-1zM315 295h3v1h-3zM392 295h1v1h-1zM508 295h1v1h-1zM851 295h1v1h-1zM962 295h1v1h-1zM988 295h1v1h-1zM242 296h1v1h-1zM297 296h1v1h-1zM392 296h1v1h-1zM508 296h1v1h-1zM852 296h1v1h-1zM962 296h1v1h-1zM989 296h1v1h-1zM243 297h1v1h-1zM296 297h1v1h-1zM393 297h1v1h-1zM507 297h1v1h-1zM852 297h1v1h-1zM961 297h1v1h-1zM989 297h1v1h-1zM243 298h1v1h-1zM295 298h1v1h-1zM394 298h1v1h-1zM506 298h1v1h-1zM853 298h1v1h-1zM961 298h1v1h-1zM990 298h1v1h-1zM244 299h1v1h-1zM294 299h1v1h-1zM395 299h1v1h-1zM505 299h1v1h-1zM853 299h1v1h-1zM960 299h1v1h-1zM990 299h1v1h-1zM245 300h1v1h-1zM293 300h1v1h-1zM395 300h1v1h-1zM504 300h1v1h-1zM854 300h1v1h-1zM960 300h1v1h-1zM991 300h1v1h-1zM246 301h1v1h-1zM292 301h1v1h-1zM396 301h1v1h-1zM504 301h1v1h-1zM854 301h1v1h-1zM959 301h1v1h-1zM991 301h1v1h-1zM247 302h1v1h-1zM290 302h2v1h-2zM397 302h1v1h-1zM503 302h1v1h-1zM854 302h1v1h-1zM959 302h1v1h-1zM992 302h1v1h-1zM248 303h1v1h-1zM288 303h2v1h-2zM398 303h1v1h-1zM502 303h1v1h-1zM855 303h1v1h-1zM958 303h1v1h-1zM992 303h1v1h-1zM248 304h1v1h-1zM287 304h1v1h-1zM398 304h1v1h-1zM501 304h1v1h-1zM855 304h1v1h-1zM958 304h1v1h-1zM993 304h1v1h-1zM249 305h1v1h-1zM285 305h2v1h-2zM399 305h1v1h-1zM500 305h1v1h-1zM855 305h1v1h-1zM957 305h1v1h-1zM993 305h1v1h-1zM250 306h1v1h-1zM284 306h1v1h-1zM400 306h1v1h-1zM443 306h10v1h-10zM499 306h1v1h-1zM856 306h1v1h-1zM957 306h1v1h-1zM994 306h1v1h-1zM251 307h1v1h-1zM283 307h1v1h-1zM401 307h1v1h-1zM440 307h3v1h-3zM453 307h2v1h-2zM499 307h1v1h-1zM856 307h1v1h-1zM956 307h1v1h-1zM994 307h1v1h-1zM252 308h1v1h-1zM282 308h1v1h-1zM402 308h1v1h-1zM438 308h2v1h-2zM455 308h2v1h-2zM498 308h1v1h-1zM857 308h1v1h-1zM956 308h1v1h-1zM995 308h1v1h-1zM253 309h1v1h-1zM281 309h1v1h-1zM402 309h1v1h-1zM436 309h2v1h-2zM457 309h2v1h-2zM497 309h1v1h-1zM857 309h1v1h-1zM955 309h1v1h-1zM995 309h1v1h-1zM254 310h1v1h-1zM280 310h1v1h-1zM403 310h1v1h-1zM435 310h1v1h-1zM459 310h2v1h-2zM496 310h1v1h-1zM857 310h1v1h-1zM955 310h1v1h-1zM996 310h1v1h-1zM255 311h1v1h-1zM280 311h1v1h-1zM404 311h1v1h-1zM434 311h1v1h-1zM461 311h2v1h-2zM496 311h1v1h-1zM858 311h1v1h-1zM954 311h1v1h-1zM997 311h1v1h-1zM256 312h2v1h-2zM279 312h1v1h-1zM405 312h1v1h-1zM433 312h1v1h-1zM463 312h2v1h-2zM495 312h1v1h-1zM858 312h1v1h-1zM954 312h1v1h-1zM997 312h1v1h-1zM258 313h1v1h-1zM278 313h1v1h-1zM406 313h1v1h-1zM432 313h1v1h-1zM465 313h2v1h-2zM494 313h1v1h-1zM858 313h1v1h-1zM954 313h1v1h-1zM998 313h1v1h-1zM259 314h1v1h-1zM277 314h1v1h-1zM407 314h1v1h-1zM431 314h1v1h-1zM467 314h3v1h-3zM493 314h1v1h-1zM859 314h1v1h-1zM953 314h1v1h-1zM998 314h1v1h-1zM260 315h2v1h-2zM275 315h2v1h-2zM408 315h1v1h-1zM430 315h1v1h-1zM470 315h4v1h-4zM493 315h1v1h-1zM859 315h1v1h-1zM953 315h1v1h-1zM999 315h1v1h-1zM262 316h2v1h-2zM272 316h3v1h-3zM409 316h1v1h-1zM429 316h1v1h-1zM474 316h3v1h-3zM492 316h1v1h-1zM860 316h1v1h-1zM953 316h1v1h-1zM999 316h1v1h-1zM264 317h3v1h-3zM270 317h2v1h-2zM410 317h1v1h-1zM428 317h1v1h-1zM477 317h1v1h-1zM490 317h2v1h-2zM860 317h1v1h-1zM952 317h1v1h-1zM1000 317h1v1h-1zM267 318h3v1h-3zM411 318h1v1h-1zM426 318h2v1h-2zM478 318h2v1h-2zM489 318h1v1h-1zM861 318h1v1h-1zM952 318h1v1h-1zM1000 318h1v1h-1zM412 319h2v1h-2zM424 319h2v1h-2zM480 319h1v1h-1zM488 319h1v1h-1zM861 319h1v1h-1zM951 319h1v1h-1zM1001 319h1v1h-1zM414 320h2v1h-2zM423 320h1v1h-1zM481 320h1v1h-1zM486 320h2v1h-2zM862 320h1v1h-1zM951 320h1v1h-1zM1001 320h1v1h-1zM416 321h3v1h-3zM421 321h2v1h-2zM482 321h2v1h-2zM485 321h1v1h-1zM862 321h1v1h-1zM951 321h1v1h-1zM1002 321h1v1h-1zM419 322h2v1h-2zM484 322h1v1h-1zM863 322h1v1h-1zM950 322h1v1h-1zM1002 322h1v1h-1zM863 323h1v1h-1zM950 323h1v1h-1zM1003 323h1v1h-1zM864 324h1v1h-1zM950 324h1v1h-1zM1003 324h1v1h-1zM865 325h1v1h-1zM949 325h1v1h-1zM1004 325h1v1h-1zM865 326h1v1h-1zM949 326h1v1h-1zM1004 326h1v1h-1zM866 327h1v1h-1zM948 327h1v1h-1zM1005 327h1v1h-1zM866 328h1v1h-1zM948 328h1v1h-1zM1005 328h1v1h-1zM867 329h1v1h-1zM948 329h1v1h-1zM1006 329h1v1h-1zM867 330h1v1h-1zM947 330h1v1h-1zM1006 330h1v1h-1zM868 331h1v1h-1zM947 331h1v1h-1zM1007 331h1v1h-1zM869 332h1v1h-1zM946 332h1v1h-1zM1007 332h1v1h-1zM869 333h1v1h-1zM946 333h1v1h-1zM1008 333h1v1h-1zM870 334h1v1h-1zM945 334h1v1h-1zM1008 334h1v1h-1zM871 335h1v1h-1zM945 335h1v1h-1zM1008 335h1v1h-1zM871 336h1v1h-1zM944 336h1v1h-1zM1009 336h1v1h-1zM872 337h1v1h-1zM944 337h1v1h-1zM1009 337h1v1h-1zM873 338h1v1h-1zM944 338h1v1h-1zM1010 338h1v1h-1zM873 339h1v1h-1zM943 339h1v1h-1zM1010 339h1v1h-1zM874 340h1v1h-1zM943 340h1v1h-1zM1011 340h1v1h-1zM875 341h1v1h-1zM942 341h1v1h-1zM1011 341h1v1h-1zM875 342h1v1h-1zM942 342h1v1h-1zM1012 342h1v1h-1zM876 343h1v1h-1zM941 343h1v1h-1zM1012 343h1v1h-1zM877 344h1v1h-1zM941 344h1v1h-1zM1012 344h1v1h-1zM878 345h1v1h-1zM940 345h1v1h-1zM1013 345h1v1h-1zM879 346h1v1h-1zM940 346h1v1h-1zM1013 346h1v1h-1zM880 347h1v1h-1zM939 347h1v1h-1zM1014 347h1v1h-1zM881 348h1v1h-1zM938 348h1v1h-1zM1014 348h1v1h-1zM882 349h1v1h-1zM936 349h2v1h-2zM1014 349h1v1h-1zM883 350h1v1h-1zM935 350h1v1h-1zM1015 350h1v1h-1zM884 351h1v1h-1zM934 351h1v1h-1zM1015 351h1v1h-1zM885 352h1v1h-1zM933 352h1v1h-1zM1016 352h1v1h-1zM885 353h1v1h-1zM932 353h1v1h-1zM1016 353h1v1h-1zM886 354h1v1h-1zM931 354h1v1h-1zM1016 354h1v1h-1zM887 355h1v1h-1zM930 355h1v1h-1zM1017 355h1v1h-1zM887 356h1v1h-1zM930 356h1v1h-1zM1017 356h1v1h-1zM888 357h1v1h-1zM929 357h1v1h-1zM1018 357h1v1h-1zM889 358h1v1h-1zM928 358h1v1h-1zM1018 358h1v1h-1zM889 359h1v1h-1zM927 359h1v1h-1zM1018 359h1v1h-1zM890 360h1v1h-1zM926 360h1v1h-1zM1019 360h1v1h-1zM891 361h1v1h-1zM926 361h1v1h-1zM1019 361h1v1h-1zM891 362h1v1h-1zM925 362h1v1h-1zM1020 362h1v1h-1zM892 363h1v1h-1zM924 363h1v1h-1zM1020 363h1v1h-1zM893 364h1v1h-1zM924 364h1v1h-1zM1020 364h1v1h-1zM894 365h1v1h-1zM923 365h1v1h-1zM1021 365h1v1h-1zM894 366h1v1h-1zM923 366h1v1h-1zM1021 366h1v1h-1zM895 367h1v1h-1zM922 367h1v1h-1zM1022 367h1v1h-1zM896 368h1v1h-1zM922 368h1v1h-1zM1022 368h1v1h-1zM897 369h1v1h-1zM921 369h1v1h-1zM1023 369h1v1h-1zM898 370h1v1h-1zM921 370h1v1h-1zM1023 370h1v1h-1zM898 371h1v1h-1zM920 371h1v1h-1zM1023 371h1v1h-1zM899 372h1v1h-1zM920 372h1v1h-1zM1024 372h1v1h-1zM900 373h1v1h-1zM920 373h1v1h-1zM1024 373h1v1h-1zM901 374h1v1h-1zM919 374h1v1h-1zM1025 374h1v1h-1zM902 375h2v1h-2zM919 375h1v1h-1zM1025 375h1v1h-1zM904 376h1v1h-1zM918 376h1v1h-1zM1025 376h1v1h-1zM905 377h1v1h-1zM918 377h1v1h-1zM1026 377h1v1h-1zM906 378h2v1h-2zM917 378h1v1h-1zM1026 378h1v1h-1zM908 379h2v1h-2zM917 379h1v1h-1zM1027 379h1v1h-1zM910 380h4v1h-4zM916 380h1v1h-1zM1027 380h1v1h-1zM914 381h3v1h-3zM1028 381h1v1h-1zM1028 382h1v1h-1zM1029 383h1v1h-1zM1029 384h1v1h-1zM1030 385h1v1h-1zM1030 386h1v1h-1zM1031 387h1v1h-1zM1031 388h1v1h-1zM1032 389h1v1h-1zM1072 389h6v1h-6zM1033 390h1v1h-1zM1066 390h6v1h-6zM1078 390h4v1h-4zM1033 391h1v1h-1zM1062 391h4v1h-4zM1082 391h3v1h-3zM1034 392h1v1h-1zM1060 392h2v1h-2zM1085 392h2v1h-2zM1034 393h1v1h-1zM1059 393h1v1h-1zM1087 393h1v1h-1zM1035 394h1v1h-1zM1058 394h1v1h-1zM1088 394h2v1h-2zM1035 395h1v1h-1zM1056 395h2v1h-2zM1090 395h2v1h-2zM1036 396h1v1h-1zM1055 396h1v1h-1zM1092 396h1v1h-1zM1037 397h1v1h-1zM1054 397h1v1h-1zM1092 397h1v1h-1zM1038 398h1v1h-1zM1053 398h1v1h-1zM1093 398h1v1h-1zM1039 399h1v1h-1zM1052 399h1v1h-1zM1093 399h1v1h-1zM1040 400h1v1h-1zM1050 400h2v1h-2zM1094 400h1v1h-1zM1040 401h1v1h-1zM1049 401h1v1h-1zM1094 401h1v1h-1zM1041 402h1v1h-1zM1048 402h1v1h-1zM1095 402h1v1h-1zM1042 403h1v1h-1zM1046 403h2v1h-2zM1095 403h1v1h-1zM1043 404h1v1h-1zM1045 404h1v1h-1zM1096 404h1v1h-1zM1044 405h1v1h-1zM1096 405h1v1h-1zM1097 406h1v1h-1zM1097 407h1v1h-1zM1098 408h1v1h-1zM1098 409h1v1h-1zM1099 410h1v1h-1zM1099 411h1v1h-1zM1100 412h1v1h-1zM1100 413h1v1h-1zM1100 414h1v1h-1zM1101 415h1v1h-1zM1101 416h1v1h-1zM1101 417h1v1h-1zM1102 418h1v1h-1zM1102 419h1v1h-1zM1102 420h1v1h-1zM1103 421h1v1h-1zM1103 422h1v1h-1zM1103 423h1v1h-1zM1104 424h1v1h-1zM1104 425h1v1h-1zM1104 426h1v1h-1zM1105 427h1v1h-1zM1105 428h1v1h-1zM1105 429h1v1h-1zM1106 430h1v1h-1zM1106 431h1v1h-1zM1106 432h1v1h-1zM1107 433h1v1h-1zM1107 434h1v1h-1zM1107 435h1v1h-1zM1108 436h1v1h-1zM1108 437h1v1h-1zM1108 438h1v1h-1zM1109 439h1v1h-1zM1109 440h1v1h-1zM1109 441h1v1h-1zM1110 442h1v1h-1zM1110 443h1v1h-1zM1110 444h1v1h-1zM1111 445h1v1h-1zM1111 446h1v1h-1zM1111 447h1v1h-1zM1112 448h1v1h-1zM1112 449h1v1h-1zM1112 450h1v1h-1zM1112 451h1v1h-1zM1113 452h1v1h-1zM1113 453h1v1h-1zM1113 454h1v1h-1zM1114 455h1v1h-1zM1114 456h1v1h-1zM1114 457h1v1h-1zM1115 458h1v1h-1zM1115 459h1v1h-1zM1115 460h1v1h-1zM1116 461h1v1h-1zM1116 462h1v1h-1z" fill="#0000ff" shape-rendering="crispEdges"/>
<rect x="4" y="60" width="1415" height="3" fill="#ff0000" />
<rect x="4" y="189" width="1415" height="3" fill="#ff0000" />
<rect x="4" y="295" width="1415" height="3" fill="#ff0000" />
<rect x="4" y="395" width="1415" height="3" fill="#00ff00" />
<rect x="4" y="484" width="1415" height="3" fill="#0000ff" />
<rect x="4" y="520" width="1415" height="1" fill="#c0c0c0" />
<g shape-rendering="crispEdges">
<rect x="4" y="614" width="1" height="1" fill="#c0c0c0" />
<rect x="12" y="614" width="1" height="3" fill="#c0c0c0" />
<rect x="20" y="614" width="1" height="3" fill="#c0c0c0" />
<rect x="28" y="614" width="1" height="7" fill="#c0c0c0" />
<rect x="36" y="614" width="1" height="12" fill="#c0c0c0" />
<rect x="44" y="614" width="1" height="17" fill="#c0c0c0" />
<rect x="52" y="614" width="1" height="23" fill="#c0c0c0" />
<rect x="60" y="614" width="1" height="26" fill="#c0c0c0" />
<rect x="68" y="614" width="1" height="30" fill="#c0c0c0" />
<rect x="76" y="614" width="1" height="33" fill="#c0c0c0" />
<rect x="84" y="614" width="1" height="31" fill="#c0c0c0" />
<rect x="92" y="614" width="1" height="31" fill="#c0c0c0" />
<rect x="100" y="614" width="1" height="32" fill="#c0c0c0" />
<rect x="108" y="614" width="1" height="31" fill="#c0c0c0" />
<rect x="116" y="614" width="1" height="28" fill="#c0c0c0" />
<rect x="124" y="614" width="1" height="24" fill="#c0c0c0" />
<rect x="132" y="614" width="1" height="19" fill="#c0c0c0" />
<rect x="140" y="614" width="1" height="17" fill="#c0c0c0" />
<rect x="148" y="614" width="1" height="12" fill="#c0c0c0" />
<rect x="156" y="614" width="1" height="7" fill="#c0c0c0" />
<rect x="164" y="614" width="1" height="3" fill="#c0c0c0" />
<rect x="172" y="614" width="1" height="2" fill="#c0c0c0" />
<rect x="180" y="614" width="1" height="1" fill="#c0c0c0" />
<rect x="188" y="614" width="1" height="4" fill="#c0c0c0" />
<rect x="196" y="614" width="1" height="6" fill="#c0c0c0" />
<rect x="204" y="614" width="1" height="6" fill="#c0c0c0" />
<rect x="212" y="614" width="1" height="9" fill="#c0c0c0" />
<rect x="220" y="614" width="1" height="17" fill="#c0c0c0" />
<rect x="228" y="614" width="1" height="25" fill="#c0c0c0" />
<rect x="236" y="614" width="1" height="29" fill="#c0c0c0" />
<rect x="244" y="614" width="1" height="33" fill="#c0c0c0" />
<rect x="252" y="614" width="1" height="32" fill="#c0c0c0" />
<rect x="260" y="614" width="1" height="29" fill="#c0c0c0" />
<rect x="268" y="614" width="1" height="27" fill="#c0c0c0" />
<rect x="276" y="614" width="1" height="27" fill="#c0c0c0" />
<rect x="284" y="614" width="1" height="26" fill="#c0c0c0" />
<rect x="292" y="614" width="1" height="25" fill="#c0c0c0" />
<rect x="300" y="614" width="1" height="23" fill="#c0c0c0" />
<rect x="308" y="614" width="1" height="22" fill="#c0c0c0" />
<rect x="316" y="614" width="1" height="20" fill="#c0c0c0" />
<rect x="324" y="614" width="1" height="16" fill="#c0c0c0" />
<rect x="332" y="614" width="1" height="13" fill="#c0c0c0" />
<rect x="340" y="614" width="1" height="9" fill="#c0c0c0" />
<rect x="348" y="614" width="1" height="7" fill="#c0c0c0" />
<rect x="356" y="614" width="1" height="7" fill="#c0c0c0" />
<rect x="364" y="614" width="1" height="7" fill="#c0c0c0" />
<rect x="372" y="614" width="1" height="10" fill="#c0c0c0" />
<rect x="380" y="614" width="1" height="13" fill="#c0c0c0" />
<rect x="388" y="614" width="1" height="15" fill="#c0c0c0" />
<rect x="396" y="614" width="1" height="16" fill="#c0c0c0" />
<rect x="404" y="614" width="1" height="17" fill="#c0c0c0" />
<rect x="412" y="614" width="1" height="18" fill="#c0c0c0" />
<rect x="420" y="614" width="1" height="16" fill="#c0c0c0" />
<rect x="428" y="614" width="1" height="13" fill="#c0c0c0" />
<rect x="436" y="614" width="1" height="10" fill="#c0c0c0" />
<rect x="444" y="614" width="1" height="10" fill="#c0c0c0" />
<rect x="452" y="614" width="1" height="11" fill="#c0c0c0" />
<rect x="460" y="614" width="1" height="14" fill="#c0c0c0" />
<rect x="468" y="614" width="1" height="17" fill="#c0c0c0" />
<rect x="476" y="614" width="1" height="16" fill="#c0c0c0" />
<rect x="484" y="614" width="1" height="14" fill="#c0c0c0" />
<rect x="492" y="614" width="1" height="7" fill="#c0c0c0" />
<rect x="500" y="614" width="1" height="1" fill="#c0c0c0" />
<rect x="508" y="612" width="1" height="2" fill="#c0c0c0" />
<rect x="516" y="605" width="1" height="9" fill="#c0c0c0" />
<rect x="524" y="595" width="1" height="19" fill="#c0c0c0" />
<rect x="532" y="589" width="1" height="25" fill="#c0c0c0" />
<rect x="540" y="585" width="1" height="29" fill="#c0c0c0" />
<rect x="548" y="581" width="1" height="33" fill="#c0c0c0" />
<rect x="556" y="581" width="1" height="33" fill="#c0c0c0" />
<rect x="564" y="583" width="1" height="31" fill="#c0c0c0" />
<rect x="572" y="591" width="1" height="23" fill="#c0c0c0" />
<rect x="580" y="596" width="1" height="18" fill="#c0c0c0" />
<rect x="588" y="600" width="1" height="14" fill="#c0c0c0" />
<rect x="596" y="606" width="1" height="8" fill="#c0c0c0" />
<rect x="604" y="607" width="1" height="7" fill="#c0c0c0" />
<rect x="612" y="603" width="1" height="11" fill="#c0c0c0" />
<rect x="620" y="594" width="1" height="20" fill="#c0c0c0" />
<rect x="628" y="585" width="1" height="29" fill="#c0c0c0" />
<rect x="636" y="578" width="1" height="36" fill="#c0c0c0" />
<rect x="644" y="575" width="1" height="39" fill="#c0c0c0" />
<rect x="652" y="573" width="1" height="41" fill="#c0c0c0" />
<rect x="660" y="572" width="1" height="42" fill="#c0c0c0" />
<rect x="668" y="571" width="1" height="43" fill="#c0c0c0" />
<rect x="676" y="572" width="1" height="42" fill="#c0c0c0" />
<rect x="684" y="580" width="1" height="34" fill="#c0c0c0" />
<rect x="692" y="586" width="1" height="28" fill="#c0c0c0" />
<rect x="700" y="591" width="1" height="23" fill="#c0c0c0" />
<rect x="708" y="596" width="1" height="18" fill="#c0c0c0" />
<rect x="716" y="605" width="1" height="9" fill="#c0c0c0" />
<rect x="724" y="612" width="1" height="2" fill="#c0c0c0" />
<rect x="732" y="614" width="1" height="5" fill="#c0c0c0" />
<rect x="740" y="614" width="1" height="11" fill="#c0c0c0" />
<rect x="748" y="614" width="1" height="11" fill="#c0c0c0" />
<rect x="756" y="614" width="1" height="11" fill="#c0c0c0" />
<rect x="764" y="614" width="1" height="10" fill="#c0c0c0" />
<rect x="772" y="614" width="1" height="8" fill="#c0c0c0" />
<rect x="780" y="614" width="1" height="8" fill="#c0c0c0" />
<rect x="788" y="614" width="1" height="12" fill="#c0c0c0" />
<rect x="796" y="614" width="1" height="14" fill="#c0c0c0" />
<rect x="804" y="614" width="1" height="12" fill="#c0c0c0" />
<rect x="812" y="614" width="1" height="14" fill="#c0c0c0" />
<rect x="820" y="614" width="1" height="16" fill="#c0c0c0" />
<rect x="828" y="614" width="1" height="18" fill="#c0c0c0" />
<rect x="836" y="614" width="1" height="24" fill="#c0c0c0" />
<rect x="844" y="614" width="1" height="29" fill="#c0c0c0" />
<rect x="852" y="614" width="1" height="32" fill="#c0c0c0" />
<rect x="860" y="614" width="1" height="37" fill="#c0c0c0" />
<rect x="868" y="614" width="1" height="39" fill="#c0c0c0" />
<rect x="876" y="614" width="1" height="39" fill="#c0c0c0" />
<rect x="884" y="614" width="1" height="38" fill="#c0c0c0" />
<rect x="892" y="614" width="1" height="44" fill="#c0c0c0" />
<rect x="900" y="614" width="1" height="47" fill="#c0c0c0" />
<rect x="908" y="614" width="1" height="46" fill="#c0c0c0" />
<rect x="916" y="614" width="1" height="46" fill="#c0c0c0" />
<rect x="924" y="614" width="1" height="33" fill="#c0c0c0" />
<rect x="932" y="614" width="1" height="26" fill="#c0c0c0" />
<rect x="940" y="614" width="1" height="20" fill="#c0c0c0" />
<rect x="948" y="614" width="1" height="17" fill="#c0c0c0" />
<rect x="956" y="614" width="1" height="13" fill="#c0c0c0" />
<rect x="964" y="614" width="1" height="9" fill="#c0c0c0" />
<rect x="972" y="614" width="1" height="5" fill="#c0c0c0" />
<rect x="980" y="614" width="1" height="6" fill="#c0c0c0" />
<rect x="988" y="614" width="1" height="9" fill="#c0c0c0" />
<rect x="996" y="614" width="1" height="14" fill="#c0c0c0" />
<rect x="1004" y="614" width="1" height="19" fill="#c0c0c0" />
<rect x="1012" y="614" width="1" height="23" fill="#c0c0c0" />
<rect x="1020" y="614" width="1" height="27" fill="#c0c0c0" />
<rect x="1028" y="614" width="1" height="28" fill="#c0c0c0" />
<rect x="1036" y="614" width="1" height="30" fill="#c0c0c0" />
<rect x="1044" y="614" width="1" height="31" fill="#c0c0c0" />
<rect x="1052" y="614" width="1" height="26" fill="#c0c0c0" />
<rect x="1060" y="614" width="1" height="23" fill="#c0c0c0" />
<rect x="1068" y="614" width="1" height="23" fill="#c0c0c0" />
<rect x="1076" y="614" width="1" height="24" fill="#c0c0c0" />
<rect x="1084" y="614" width="1" height="25" fill="#c0c0c0" />
<rect x="1092" y="614" width="1" height="28" fill="#c0c0c0" />
<rect x="1100" y="614" width="1" height="37" fill="#c0c0c0" />
<rect x="1108" y="614" width="1" height="42" fill="#c0c0c0" />
<rect x="1116" y="614" width="1" height="46" fill="#c0c0c0" />
</g>
<path d="M4,624.2L7,623.8M10,622.9L13,622.5M16,621.6L19,621.2M22,620.4L25,620.0M28,619.2L31,618.8M34,618.1L37,617.7M40,618.4L43,618.7M46,619.5L49,619.9M52,620.8L55,621.6M58,623.2L61,624.0M64,625.8L67,626.8M70,628.6L73,629.6M76,631.4L79,632.2M82,633.8L85,634.6M88,636.2L91,637.0M94,638.5L97,639.2M100,640.6L103,641.1M106,642.2L109,642.8M112,643.4L115,643.6M118,644.0L121,644.0M124,644.0L127,643.8M130,643.5L133,643.3M136,642.5L139,642.2M142,641.2L145,640.6M148,639.4L151,638.8M154,637.4L157,636.8M160,635.2L163,634.4M166,632.8L169,631.9M172,630.2L175,629.4M178,627.6L181,626.7M184,625.3L187,624.7M190,623.5L193,623.0M196,622.0L199,621.6M202,620.9L205,620.5M208,620.1L211,619.8M214,619.8L217,619.9M220,620.2L223,620.8M226,621.8L229,622.3M232,623.7L235,624.5M238,626.1L241,627.0M244,628.7L247,629.6M250,631.5L253,632.4M256,633.8L259,634.5M262,635.8L265,636.3M268,637.5L271,638.1M274,639.3L277,639.9M280,640.9L283,641.3M286,642.0L289,642.2M292,642.7L295,642.6M298,642.4L301,642.4M304,641.9L307,641.7M310,641.1L313,640.7M316,640.0L319,639.6M322,638.7L325,638.2M328,637.3L331,636.9M334,635.9L337,635.4M340,634.4L343,633.9M346,632.7L349,632.1M352,631.0L355,630.5M358,629.5L361,628.9M364,627.9L367,627.6M370,626.8L373,626.4M376,625.9L379,625.7M382,625.3L385,625.1M388,624.8L391,624.8M394,624.8L397,624.8M400,625.0L403,625.1M406,625.5L409,625.7M412,626.2L415,626.5M418,627.1L421,627.3M424,627.7L427,627.8M430,628.1L433,628.2M436,628.3L439,628.3M442,628.3L445,628.3M448,628.2L451,628.2M454,628.1L457,628.1M460,628.0L463,628.1M466,628.2L469,628.2M472,628.2L475,628.1M478,628.0L481,627.9M484,627.7L487,627.4M490,626.9L493,626.6M496,625.9L499,625.6M502,624.9L505,624.5M508,623.8L511,623.3M514,622.3L517,621.8M520,620.1L523,619.3M526,617.3L529,616.2M532,614.0L535,612.7M538,610.1L541,608.8M544,606.0L547,604.6M550,601.9L553,600.5M556,597.9L559,596.8M562,594.6L565,593.5M568,592.2L571,591.5M574,590.4L577,590.0M580,589.1L583,589.0M586,588.7L589,588.6M592,589.2L595,589.5M598,590.3L601,590.8M604,591.8L607,592.3M610,593.3L613,593.8M616,594.5L619,594.9M622,595.4L625,595.5M628,595.7L631,595.6M634,595.3L637,595.1M640,594.2L643,593.8M646,592.7L649,592.0M652,590.7L655,589.8M658,588.2L661,587.4M664,585.4L667,584.5M670,582.5L673,581.5M676,579.5L679,578.9M682,577.6L685,576.9M688,576.5L691,576.3M694,576.2L697,576.4M700,576.8L703,577.3M706,578.3L709,578.8M712,580.6L715,581.4M718,583.4L721,584.5M724,586.7L727,588.1M730,590.7L733,592.1M736,595.1L739,596.6M742,599.7L745,601.1M748,604.1L751,605.4M754,608.0L757,609.2M760,611.4L763,612.4M766,614.4L769,615.2M772,617.0L775,617.7M778,619.2L781,620.0M784,621.1L787,621.7M790,622.8L793,623.2M796,624.1L799,624.3M802,624.7L805,624.9M808,625.1L811,625.2M814,625.4L817,625.5M820,625.8L823,626.0M826,626.4L829,626.6M832,627.4L835,627.8M838,628.8L841,629.4M844,630.5L847,631.2M850,632.6L853,633.3M856,634.7L859,635.4M862,636.8L865,637.5M868,639.0L871,639.7M874,641.3L877,642.1M880,643.4L883,644.1M886,645.6L889,646.4M892,648.0L895,648.8M898,650.4L901,651.3M904,652.5L907,653.2M910,654.3L913,654.8M916,655.7L919,655.7M922,655.8L925,655.8M928,655.2L931,654.9M934,654.1L937,653.5M940,652.5L943,651.9M946,650.6L949,650.0M952,648.6L955,647.9M958,646.2L961,645.2M964,643.2L967,642.1M970,639.7L973,638.5M976,636.2L979,635.1M982,632.9L985,631.9M988,629.8L991,629.3M994,628.2L997,627.6M1000,627.2L1003,627.0M1006,626.9L1009,627.0M1012,627.2L1015,627.5M1018,628.0L1021,628.3M1024,629.2L1027,629.6M1030,630.6L1033,631.2M1036,632.4L1039,633.1M1042,634.6L1045,635.3M1048,636.5L1051,637.1M1054,638.0L1057,638.4M1060,639.2L1063,639.5M1066,640.0L1069,640.2M1072,640.5L1075,640.7M1078,640.9L1081,640.9M1084,641.0L1087,641.0M1090,641.1L1093,641.1M1096,641.5L1099,641.8M1102,642.3L1105,642.7M1108,643.4L1111,643.8M1114,644.6L1117,645.0" fill="none" stroke="#ff0000" stroke-width="1" shape-rendering="crispEdges"/>
<path d="M524 711h1v1h-1zM523 712h1v1h-1zM525 712h2v1h-2zM522 713h1v1h-1zM527 713h1v1h-1zM632 713h5v1h-5zM521 714h1v1h-1zM528 714h2v1h-2zM626 714h6v1h-6zM637 714h1v1h-1zM520 715h1v1h-1zM530 715h2v1h-2zM546 715h3v1h-3zM622 715h4v1h-4zM638 715h1v1h-1zM519 716h1v1h-1zM532 716h4v1h-4zM542 716h4v1h-4zM549 716h1v1h-1zM620 716h2v1h-2zM639 716h1v1h-1zM518 717h1v1h-1zM536 717h6v1h-6zM550 717h1v1h-1zM619 717h1v1h-1zM640 717h2v1h-2zM517 718h1v1h-1zM551 718h1v1h-1zM618 718h1v1h-1zM642 718h1v1h-1zM664 718h5v1h-5zM516 719h1v1h-1zM552 719h1v1h-1zM617 719h1v1h-1zM643 719h1v1h-1zM648 719h16v1h-16zM669 719h2v1h-2zM515 720h1v1h-1zM552 720h1v1h-1zM616 720h1v1h-1zM644 720h4v1h-4zM671 720h1v1h-1zM496 721h5v1h-5zM514 721h1v1h-1zM553 721h1v1h-1zM616 721h1v1h-1zM672 721h2v1h-2zM492 722h4v1h-4zM501 722h1v1h-1zM513 722h1v1h-1zM554 722h1v1h-1zM615 722h1v1h-1zM674 722h2v1h-2zM492 723h1v1h-1zM502 723h1v1h-1zM512 723h1v1h-1zM555 723h1v1h-1zM614 723h1v1h-1zM676 723h1v1h-1zM491 724h1v1h-1zM503 724h1v1h-1zM512 724h1v1h-1zM556 724h2v1h-2zM613 724h1v1h-1zM677 724h1v1h-1zM491 725h1v1h-1zM504 725h2v1h-2zM511 725h1v1h-1zM558 725h2v1h-2zM612 725h1v1h-1zM677 725h1v1h-1zM490 726h1v1h-1zM506 726h1v1h-1zM510 726h1v1h-1zM560 726h3v1h-3zM611 726h1v1h-1zM678 726h1v1h-1zM924 726h1v1h-1zM490 727h1v1h-1zM507 727h1v1h-1zM509 727h1v1h-1zM563 727h2v1h-2zM610 727h1v1h-1zM678 727h1v1h-1zM924 727h2v1h-2zM154 728h11v1h-11zM489 728h1v1h-1zM508 728h1v1h-1zM565 728h1v1h-1zM609 728h1v1h-1zM679 728h1v1h-1zM923 728h1v1h-1zM926 728h2v1h-2zM150 729h4v1h-4zM165 729h2v1h-2zM489 729h1v1h-1zM565 729h1v1h-1zM608 729h1v1h-1zM679 729h1v1h-1zM923 729h1v1h-1zM928 729h1v1h-1zM148 730h2v1h-2zM167 730h2v1h-2zM178 730h3v1h-3zM488 730h1v1h-1zM566 730h1v1h-1zM608 730h1v1h-1zM680 730h1v1h-1zM923 730h1v1h-1zM929 730h1v1h-1zM968 730h5v1h-5zM147 731h1v1h-1zM169 731h2v1h-2zM174 731h4v1h-4zM181 731h1v1h-1zM336 731h8v1h-8zM428 731h2v1h-2zM488 731h1v1h-1zM566 731h1v1h-1zM607 731h1v1h-1zM681 731h1v1h-1zM922 731h1v1h-1zM930 731h2v1h-2zM960 731h8v1h-8zM973 731h1v1h-1zM146 732h1v1h-1zM171 732h3v1h-3zM181 732h1v1h-1zM330 732h6v1h-6zM344 732h5v1h-5zM427 732h1v1h-1zM430 732h4v1h-4zM487 732h1v1h-1zM567 732h1v1h-1zM606 732h1v1h-1zM681 732h1v1h-1zM922 732h1v1h-1zM932 732h10v1h-10zM955 732h5v1h-5zM974 732h1v1h-1zM131 733h2v1h-2zM144 733h2v1h-2zM182 733h1v1h-1zM326 733h4v1h-4zM349 733h1v1h-1zM426 733h1v1h-1zM434 733h3v1h-3zM487 733h1v1h-1zM567 733h1v1h-1zM605 733h1v1h-1zM682 733h1v1h-1zM922 733h1v1h-1zM942 733h2v1h-2zM952 733h3v1h-3zM975 733h1v1h-1zM128 734h3v1h-3zM133 734h2v1h-2zM143 734h1v1h-1zM182 734h1v1h-1zM324 734h2v1h-2zM350 734h1v1h-1zM425 734h1v1h-1zM437 734h2v1h-2zM486 734h1v1h-1zM568 734h1v1h-1zM604 734h1v1h-1zM682 734h1v1h-1zM921 734h1v1h-1zM944 734h3v1h-3zM950 734h2v1h-2zM976 734h1v1h-1zM126 735h2v1h-2zM135 735h2v1h-2zM142 735h1v1h-1zM183 735h1v1h-1zM322 735h2v1h-2zM351 735h1v1h-1zM424 735h1v1h-1zM439 735h1v1h-1zM486 735h1v1h-1zM569 735h1v1h-1zM603 735h1v1h-1zM683 735h1v1h-1zM764 735h10v1h-10zM921 735h1v1h-1zM947 735h3v1h-3zM977 735h1v1h-1zM1052 735h4v1h-4zM122 736h4v1h-4zM137 736h2v1h-2zM141 736h1v1h-1zM183 736h1v1h-1zM320 736h2v1h-2zM352 736h2v1h-2zM423 736h1v1h-1zM440 736h2v1h-2zM485 736h1v1h-1zM569 736h1v1h-1zM602 736h1v1h-1zM683 736h1v1h-1zM688 736h8v1h-8zM762 736h2v1h-2zM774 736h2v1h-2zM804 736h1v1h-1zM921 736h1v1h-1zM978 736h1v1h-1zM1051 736h1v1h-1zM1056 736h5v1h-5zM19 737h2v1h-2zM118 737h4v1h-4zM139 737h2v1h-2zM184 737h1v1h-1zM319 737h1v1h-1zM354 737h1v1h-1zM422 737h1v1h-1zM442 737h2v1h-2zM485 737h1v1h-1zM570 737h1v1h-1zM586 737h3v1h-3zM601 737h1v1h-1zM684 737h4v1h-4zM696 737h13v1h-13zM760 737h2v1h-2zM776 737h3v1h-3zM803 737h1v1h-1zM805 737h1v1h-1zM920 737h1v1h-1zM979 737h1v1h-1zM1051 737h1v1h-1zM1061 737h1v1h-1zM16 738h3v1h-3zM21 738h1v1h-1zM116 738h2v1h-2zM184 738h1v1h-1zM203 738h2v1h-2zM260 738h2v1h-2zM317 738h2v1h-2zM355 738h1v1h-1zM360 738h5v1h-5zM421 738h1v1h-1zM444 738h1v1h-1zM476 738h9v1h-9zM570 738h1v1h-1zM582 738h4v1h-4zM589 738h2v1h-2zM600 738h1v1h-1zM709 738h1v1h-1zM748 738h2v1h-2zM759 738h1v1h-1zM779 738h2v1h-2zM802 738h1v1h-1zM806 738h1v1h-1zM920 738h1v1h-1zM980 738h1v1h-1zM1050 738h1v1h-1zM1062 738h1v1h-1zM14 739h2v1h-2zM22 739h2v1h-2zM115 739h1v1h-1zM185 739h1v1h-1zM200 739h3v1h-3zM205 739h1v1h-1zM258 739h2v1h-2zM262 739h2v1h-2zM299 739h3v1h-3zM314 739h3v1h-3zM356 739h4v1h-4zM365 739h1v1h-1zM420 739h1v1h-1zM445 739h2v1h-2zM475 739h1v1h-1zM571 739h1v1h-1zM578 739h4v1h-4zM591 739h1v1h-1zM599 739h1v1h-1zM709 739h1v1h-1zM747 739h1v1h-1zM750 739h4v1h-4zM757 739h2v1h-2zM781 739h1v1h-1zM800 739h2v1h-2zM807 739h1v1h-1zM920 739h1v1h-1zM981 739h2v1h-2zM1050 739h1v1h-1zM1063 739h1v1h-1zM4 740h10v1h-10zM24 740h1v1h-1zM114 740h1v1h-1zM185 740h1v1h-1zM198 740h2v1h-2zM206 740h2v1h-2zM257 740h1v1h-1zM264 740h3v1h-3zM296 740h3v1h-3zM302 740h4v1h-4zM310 740h4v1h-4zM366 740h1v1h-1zM419 740h1v1h-1zM447 740h1v1h-1zM475 740h1v1h-1zM571 740h1v1h-1zM574 740h4v1h-4zM592 740h2v1h-2zM598 740h1v1h-1zM710 740h1v1h-1zM747 740h1v1h-1zM754 740h3v1h-3zM782 740h1v1h-1zM799 740h1v1h-1zM808 740h2v1h-2zM919 740h1v1h-1zM983 740h1v1h-1zM1049 740h1v1h-1zM1064 740h1v1h-1zM25 741h1v1h-1zM113 741h1v1h-1zM186 741h1v1h-1zM195 741h3v1h-3zM208 741h1v1h-1zM256 741h1v1h-1zM267 741h2v1h-2zM283 741h5v1h-5zM294 741h2v1h-2zM306 741h4v1h-4zM367 741h1v1h-1zM418 741h1v1h-1zM448 741h2v1h-2zM474 741h1v1h-1zM572 741h2v1h-2zM594 741h2v1h-2zM597 741h1v1h-1zM711 741h1v1h-1zM746 741h1v1h-1zM783 741h1v1h-1zM798 741h1v1h-1zM810 741h1v1h-1zM919 741h1v1h-1zM984 741h2v1h-2zM1049 741h1v1h-1zM1065 741h1v1h-1zM26 742h2v1h-2zM84 742h2v1h-2zM112 742h1v1h-1zM186 742h1v1h-1zM193 742h2v1h-2zM209 742h1v1h-1zM254 742h2v1h-2zM269 742h2v1h-2zM281 742h2v1h-2zM288 742h6v1h-6zM368 742h2v1h-2zM418 742h1v1h-1zM450 742h2v1h-2zM474 742h1v1h-1zM596 742h1v1h-1zM712 742h1v1h-1zM746 742h1v1h-1zM784 742h1v1h-1zM797 742h1v1h-1zM811 742h1v1h-1zM919 742h1v1h-1zM986 742h2v1h-2zM1048 742h1v1h-1zM1066 742h1v1h-1zM28 743h2v1h-2zM83 743h1v1h-1zM86 743h2v1h-2zM111 743h1v1h-1zM187 743h1v1h-1zM191 743h2v1h-2zM210 743h2v1h-2zM253 743h1v1h-1zM271 743h2v1h-2zM279 743h2v1h-2zM370 743h1v1h-1zM417 743h1v1h-1zM452 743h1v1h-1zM473 743h1v1h-1zM712 743h1v1h-1zM745 743h1v1h-1zM784 743h1v1h-1zM795 743h2v1h-2zM812 743h4v1h-4zM918 743h1v1h-1zM988 743h1v1h-1zM1048 743h1v1h-1zM1067 743h1v1h-1zM30 744h4v1h-4zM82 744h1v1h-1zM88 744h3v1h-3zM110 744h1v1h-1zM187 744h1v1h-1zM189 744h2v1h-2zM212 744h1v1h-1zM252 744h1v1h-1zM273 744h2v1h-2zM277 744h2v1h-2zM371 744h1v1h-1zM416 744h1v1h-1zM453 744h1v1h-1zM473 744h1v1h-1zM713 744h1v1h-1zM744 744h1v1h-1zM785 744h1v1h-1zM793 744h2v1h-2zM816 744h6v1h-6zM918 744h1v1h-1zM989 744h2v1h-2zM1047 744h1v1h-1zM1068 744h2v1h-2zM34 745h4v1h-4zM81 745h1v1h-1zM91 745h5v1h-5zM109 745h1v1h-1zM188 745h1v1h-1zM213 745h1v1h-1zM251 745h1v1h-1zM275 745h2v1h-2zM372 745h2v1h-2zM415 745h1v1h-1zM454 745h1v1h-1zM472 745h1v1h-1zM714 745h1v1h-1zM744 745h1v1h-1zM786 745h1v1h-1zM791 745h2v1h-2zM822 745h4v1h-4zM918 745h1v1h-1zM991 745h1v1h-1zM1047 745h1v1h-1zM1070 745h4v1h-4zM38 746h2v1h-2zM80 746h1v1h-1zM96 746h13v1h-13zM213 746h1v1h-1zM250 746h1v1h-1zM374 746h2v1h-2zM392 746h14v1h-14zM414 746h1v1h-1zM455 746h1v1h-1zM471 746h1v1h-1zM715 746h1v1h-1zM743 746h1v1h-1zM787 746h1v1h-1zM789 746h2v1h-2zM826 746h3v1h-3zM917 746h1v1h-1zM992 746h2v1h-2zM1046 746h1v1h-1zM1074 746h6v1h-6zM40 747h3v1h-3zM80 747h1v1h-1zM214 747h1v1h-1zM249 747h1v1h-1zM376 747h3v1h-3zM384 747h8v1h-8zM406 747h2v1h-2zM414 747h1v1h-1zM456 747h2v1h-2zM471 747h1v1h-1zM715 747h1v1h-1zM720 747h6v1h-6zM742 747h1v1h-1zM788 747h1v1h-1zM829 747h1v1h-1zM917 747h1v1h-1zM994 747h2v1h-2zM1046 747h1v1h-1zM1080 747h5v1h-5zM43 748h3v1h-3zM58 748h4v1h-4zM79 748h1v1h-1zM215 748h1v1h-1zM248 748h1v1h-1zM379 748h5v1h-5zM408 748h3v1h-3zM413 748h1v1h-1zM458 748h1v1h-1zM470 748h1v1h-1zM716 748h4v1h-4zM726 748h4v1h-4zM742 748h1v1h-1zM830 748h1v1h-1zM883 748h2v1h-2zM917 748h1v1h-1zM996 748h2v1h-2zM1027 748h3v1h-3zM1045 748h1v1h-1zM1085 748h2v1h-2zM46 749h4v1h-4zM54 749h4v1h-4zM62 749h2v1h-2zM78 749h1v1h-1zM216 749h1v1h-1zM248 749h1v1h-1zM411 749h2v1h-2zM459 749h1v1h-1zM470 749h1v1h-1zM730 749h4v1h-4zM741 749h1v1h-1zM831 749h1v1h-1zM881 749h2v1h-2zM885 749h1v1h-1zM916 749h1v1h-1zM998 749h4v1h-4zM1025 749h2v1h-2zM1030 749h4v1h-4zM1045 749h1v1h-1zM1087 749h2v1h-2zM50 750h4v1h-4zM64 750h3v1h-3zM77 750h1v1h-1zM216 750h1v1h-1zM247 750h1v1h-1zM460 750h2v1h-2zM469 750h1v1h-1zM734 750h4v1h-4zM741 750h1v1h-1zM832 750h1v1h-1zM879 750h2v1h-2zM885 750h1v1h-1zM908 750h9v1h-9zM1002 750h6v1h-6zM1023 750h2v1h-2zM1034 750h11v1h-11zM1089 750h2v1h-2zM67 751h10v1h-10zM217 751h1v1h-1zM246 751h1v1h-1zM462 751h4v1h-4zM469 751h1v1h-1zM738 751h3v1h-3zM833 751h1v1h-1zM877 751h2v1h-2zM886 751h1v1h-1zM907 751h1v1h-1zM1008 751h8v1h-8zM1021 751h2v1h-2zM1091 751h2v1h-2zM218 752h1v1h-1zM236 752h4v1h-4zM245 752h1v1h-1zM466 752h3v1h-3zM834 752h1v1h-1zM875 752h2v1h-2zM887 752h1v1h-1zM906 752h1v1h-1zM1016 752h5v1h-5zM1093 752h1v1h-1zM219 753h1v1h-1zM234 753h2v1h-2zM240 753h5v1h-5zM835 753h1v1h-1zM873 753h2v1h-2zM887 753h1v1h-1zM905 753h1v1h-1zM1093 753h1v1h-1zM219 754h1v1h-1zM232 754h2v1h-2zM836 754h4v1h-4zM848 754h6v1h-6zM871 754h2v1h-2zM888 754h1v1h-1zM904 754h1v1h-1zM1094 754h1v1h-1zM220 755h2v1h-2zM231 755h1v1h-1zM840 755h8v1h-8zM854 755h2v1h-2zM869 755h2v1h-2zM889 755h1v1h-1zM903 755h1v1h-1zM1095 755h1v1h-1zM222 756h4v1h-4zM229 756h2v1h-2zM856 756h3v1h-3zM864 756h5v1h-5zM889 756h1v1h-1zM902 756h1v1h-1zM1096 756h1v1h-1zM226 757h3v1h-3zM859 757h5v1h-5zM890 757h1v1h-1zM901 757h1v1h-1zM1096 757h1v1h-1zM891 758h1v1h-1zM898 758h3v1h-3zM1097 758h1v1h-1zM1107 758h10v1h-10zM891 759h1v1h-1zM894 759h4v1h-4zM1098 759h1v1h-1zM1105 759h2v1h-2zM892 760h2v1h-2zM1099 760h1v1h-1zM1103 760h2v1h-2zM1099 761h1v1h-1zM1101 761h2v1h-2zM1100 762h1v1h-1z" fill="#1e90ff" shape-rendering="crispEdges"/>
<rect x="1420" y="31" width="2" height="1" fill="#000" />
<text x="1425.5" y="34.3" font-size="9.2" fill="#000" text-anchor="start" font-weight="normal" stroke="#000" stroke-width="0.15" >1.14280</text>
<rect x="1420" y="64" width="2" height="1" fill="#000" />
<text x="1425.5" y="67.3" font-size="9.2" fill="#000" text-anchor="start" font-weight="normal" stroke="#000" stroke-width="0.15" >1.13985</text>
<rect x="1420" y="97" width="2" height="1" fill="#000" />
<text x="1425.5" y="100.3" font-size="9.2" fill="#000" text-anchor="start" font-weight="normal" stroke="#000" stroke-width="0.15" >1.13685</text>
<rect x="1420" y="130" width="2" height="1" fill="#000" />
<text x="1425.5" y="133.3" font-size="9.2" fill="#000" text-anchor="start" font-weight="normal" stroke="#000" stroke-width="0.15" >1.13390</text>
<rect x="1420" y="163" width="2" height="1" fill="#000" />
<text x="1425.5" y="166.3" font-size="9.2" fill="#000" text-anchor="start" font-weight="normal" stroke="#000" stroke-width="0.15" >1.13090</text>
<rect x="1420" y="196" width="2" height="1" fill="#000" />
<text x="1425.5" y="199.3" font-size="9.2" fill="#000" text-anchor="start" font-weight="normal" stroke="#000" stroke-width="0.15" >1.12795</text>
<rect x="1420" y="229" width="2" height="1" fill="#000" />
<text x="1425.5" y="232.3" font-size="9.2" fill="#000" text-anchor="start" font-weight="normal" stroke="#000" stroke-width="0.15" >1.12500</text>
<rect x="1420" y="262" width="2" height="1" fill="#000" />
<text x="1425.5" y="265.3" font-size="9.2" fill="#000" text-anchor="start" font-weight="normal" stroke="#000" stroke-width="0.15" >1.12200</text>
<rect x="1420" y="295" width="2" height="1" fill="#000" />
<text x="1425.5" y="298.3" font-size="9.2" fill="#000" text-anchor="start" font-weight="normal" stroke="#000" stroke-width="0.15" >1.11905</text>
<rect x="1420" y="328" width="2" height="1" fill="#000" />
<text x="1425.5" y="331.3" font-size="9.2" fill="#000" text-anchor="start" font-weight="normal" stroke="#000" stroke-width="0.15" >1.11610</text>
<rect x="1420" y="361" width="2" height="1" fill="#000" />
<text x="1425.5" y="364.3" font-size="9.2" fill="#000" text-anchor="start" font-weight="normal" stroke="#000" stroke-width="0.15" >1.11310</text>
<rect x="1420" y="394" width="2" height="1" fill="#000" />
<text x="1425.5" y="397.3" font-size="9.2" fill="#000" text-anchor="start" font-weight="normal" stroke="#000" stroke-width="0.15" >1.11015</text>
<rect x="1420" y="427" width="2" height="1" fill="#000" />
<text x="1425.5" y="430.3" font-size="9.2" fill="#000" text-anchor="start" font-weight="normal" stroke="#000" stroke-width="0.15" >1.10720</text>
<rect x="1420" y="460" width="2" height="1" fill="#000" />
<text x="1425.5" y="463.3" font-size="9.2" fill="#000" text-anchor="start" font-weight="normal" stroke="#000" stroke-width="0.15" >1.10420</text>
<rect x="1420" y="493" width="2" height="1" fill="#000" />
<text x="1425.5" y="496.3" font-size="9.2" fill="#000" text-anchor="start" font-weight="normal" stroke="#000" stroke-width="0.15" >1.10125</text>
<rect x="1420" y="526" width="2" height="1" fill="#000" />
<text x="1425.5" y="529.3" font-size="9.2" fill="#000" text-anchor="start" font-weight="normal" stroke="#000" stroke-width="0.15" >1.09825</text>
<rect x="1420" y="559" width="2" height="1" fill="#000" />
<text x="1425.5" y="562.3" font-size="9.2" fill="#000" text-anchor="start" font-weight="normal" stroke="#000" stroke-width="0.15" >1.09530</text>
<rect x="1421" y="55" width="39" height="11" fill="#ff0000" />
<text x="1425.5" y="63.7" font-size="9" fill="#fff" text-anchor="start" font-weight="normal" stroke="#fff" stroke-width="0.15" >1.14009</text>
<rect x="1421" y="184" width="39" height="11" fill="#ff0000" />
<text x="1425.5" y="192.7" font-size="9" fill="#fff" text-anchor="start" font-weight="normal" stroke="#fff" stroke-width="0.15" >1.12851</text>
<rect x="1421" y="290" width="39" height="11" fill="#ff0000" />
<text x="1425.5" y="298.7" font-size="9" fill="#fff" text-anchor="start" font-weight="normal" stroke="#fff" stroke-width="0.15" >1.11901</text>
<rect x="1421" y="390" width="39" height="11" fill="#00ff00" />
<text x="1425.5" y="398.7" font-size="9" fill="#fff" text-anchor="start" font-weight="normal" stroke="#fff" stroke-width="0.15" >1.11000</text>
<rect x="1421" y="479" width="39" height="11" fill="#0000ff" />
<text x="1425.5" y="487.7" font-size="9" fill="#fff" text-anchor="start" font-weight="normal" stroke="#fff" stroke-width="0.15" >1.10201</text>
<rect x="1421" y="515" width="39" height="11" fill="#000000" />
<text x="1425.5" y="523.7" font-size="9" fill="#fff" text-anchor="start" font-weight="normal" stroke="#fff" stroke-width="0.15" >1.09886</text>
<polygon points="1130,24 1139,24 1134.5,28.5" fill="#b4b4b4"/>
<polygon points="7,34 14,34 10.5,29.5" fill="#000"/>
<text x="19.4" y="35" font-size="9.4" fill="#000" text-anchor="start" font-weight="normal" stroke="#000" stroke-width="0.15" textLength="66" lengthAdjust="spacing">EURUSD-,Daily</text>
<text x="92.4" y="35" font-size="9.4" fill="#000" text-anchor="start" font-weight="normal" stroke="#000" stroke-width="0.15" >1.09893</text>
<text x="128.4" y="35" font-size="9.4" fill="#000" text-anchor="start" font-weight="normal" stroke="#000" stroke-width="0.15" >1.09907</text>
<text x="164.5" y="35" font-size="9.4" fill="#000" text-anchor="start" font-weight="normal" stroke="#000" stroke-width="0.15" >1.09868</text>
<text x="200.4" y="35" font-size="9.4" fill="#000" text-anchor="start" font-weight="normal" stroke="#000" stroke-width="0.15" >1.09886</text>
<text x="8" y="576.6" font-size="9.2" fill="#000" text-anchor="start" font-weight="normal" stroke="#000" stroke-width="0.15" textLength="153.5" lengthAdjust="spacing">MACD(12,26,9) -0.004244 -0.002812</text>
<rect x="1420" y="566" width="2" height="1" fill="#000" />
<text x="1423" y="574.5" font-size="9.2" fill="#000" text-anchor="start" font-weight="normal" stroke="#000" stroke-width="0.15" >0.004517</text>
<rect x="1420" y="614" width="2" height="1" fill="#000" />
<text x="1423" y="617.8" font-size="9.2" fill="#000" text-anchor="start" font-weight="normal" stroke="#000" stroke-width="0.15" >0.00</text>
<rect x="1420" y="666" width="2" height="1" fill="#000" />
<text x="1423" y="663.9" font-size="9.2" fill="#000" text-anchor="start" font-weight="normal" stroke="#000" stroke-width="0.15" >-0.004800</text>
<text x="8" y="682" font-size="9.2" fill="#000" text-anchor="start" font-weight="normal" stroke="#000" stroke-width="0.15" textLength="68" lengthAdjust="spacing">RSI(14) 31.3230</text>
<text x="1423.5" y="679.5" font-size="9.2" fill="#000" text-anchor="start" font-weight="normal" stroke="#000" stroke-width="0.15" >100</text>
<text x="1423.5" y="712.5" font-size="9.2" fill="#000" text-anchor="start" font-weight="normal" stroke="#000" stroke-width="0.15" >70</text>
<text x="1423.5" y="763.5" font-size="9.2" fill="#000" text-anchor="start" font-weight="normal" stroke="#000" stroke-width="0.15" >30</text>
<text x="1423.5" y="795.5" font-size="9.2" fill="#000" text-anchor="start" font-weight="normal" stroke="#000" stroke-width="0.15" >0</text>
<line x1="5" y1="709.5" x2="1419" y2="709.5" stroke="#c0c0c0" stroke-dasharray="3,3"/>
<line x1="5" y1="760.5" x2="1419" y2="760.5" stroke="#c0c0c0" stroke-dasharray="3,3"/>
<rect x="4" y="800" width="1" height="3" fill="#000" />
<text x="4" y="812" font-size="9.4" fill="#000" text-anchor="start" font-weight="normal" stroke="#000" stroke-width="0.15" >22 Mar 2019</text>
<rect x="68" y="800" width="1" height="3" fill="#000" />
<text x="68" y="812" font-size="9.4" fill="#000" text-anchor="start" font-weight="normal" stroke="#000" stroke-width="0.15" >1 Apr 2019</text>
<rect x="132" y="800" width="1" height="3" fill="#000" />
<text x="132" y="812" font-size="9.4" fill="#000" text-anchor="start" font-weight="normal" stroke="#000" stroke-width="0.15" >10 Apr 2019</text>
<rect x="196" y="800" width="1" height="3" fill="#000" />
<text x="196" y="812" font-size="9.4" fill="#000" text-anchor="start" font-weight="normal" stroke="#000" stroke-width="0.15" >21 Apr 2019</text>
<rect x="260" y="800" width="1" height="3" fill="#000" />
<text x="260" y="812" font-size="9.4" fill="#000" text-anchor="start" font-weight="normal" stroke="#000" stroke-width="0.15" >30 Apr 2019</text>
<rect x="324" y="800" width="1" height="3" fill="#000" />
<text x="324" y="812" font-size="9.4" fill="#000" text-anchor="start" font-weight="normal" stroke="#000" stroke-width="0.15" >9 May 2019</text>
<rect x="388" y="800" width="1" height="3" fill="#000" />
<text x="388" y="812" font-size="9.4" fill="#000" text-anchor="start" font-weight="normal" stroke="#000" stroke-width="0.15" >19 May 2019</text>
<rect x="452" y="800" width="1" height="3" fill="#000" />
<text x="452" y="812" font-size="9.4" fill="#000" text-anchor="start" font-weight="normal" stroke="#000" stroke-width="0.15" >28 May 2019</text>
<rect x="516" y="800" width="1" height="3" fill="#000" />
<text x="516" y="812" font-size="9.4" fill="#000" text-anchor="start" font-weight="normal" stroke="#000" stroke-width="0.15" >6 Jun 2019</text>
<rect x="580" y="800" width="1" height="3" fill="#000" />
<text x="580" y="812" font-size="9.4" fill="#000" text-anchor="start" font-weight="normal" stroke="#000" stroke-width="0.15" >16 Jun 2019</text>
<rect x="644" y="800" width="1" height="3" fill="#000" />
<text x="644" y="812" font-size="9.4" fill="#000" text-anchor="start" font-weight="normal" stroke="#000" stroke-width="0.15" >25 Jun 2019</text>
<rect x="708" y="800" width="1" height="3" fill="#000" />
<text x="708" y="812" font-size="9.4" fill="#000" text-anchor="start" font-weight="normal" stroke="#000" stroke-width="0.15" >4 Jul 2019</text>
<rect x="772" y="800" width="1" height="3" fill="#000" />
<text x="772" y="812" font-size="9.4" fill="#000" text-anchor="start" font-weight="normal" stroke="#000" stroke-width="0.15" >14 Jul 2019</text>
<rect x="836" y="800" width="1" height="3" fill="#000" />
<text x="836" y="812" font-size="9.4" fill="#000" text-anchor="start" font-weight="normal" stroke="#000" stroke-width="0.15" >23 Jul 2019</text>
<rect x="900" y="800" width="1" height="3" fill="#000" />
<text x="900" y="812" font-size="9.4" fill="#000" text-anchor="start" font-weight="normal" stroke="#000" stroke-width="0.15" >1 Aug 2019</text>
<rect x="964" y="800" width="1" height="3" fill="#000" />
<text x="964" y="812" font-size="9.4" fill="#000" text-anchor="start" font-weight="normal" stroke="#000" stroke-width="0.15" >11 Aug 2019</text>
<rect x="1028" y="800" width="1" height="3" fill="#000" />
<text x="1028" y="812" font-size="9.4" fill="#000" text-anchor="start" font-weight="normal" stroke="#000" stroke-width="0.15" >20 Aug 2019</text>
<rect x="1092" y="800" width="1" height="3" fill="#000" />
<text x="1092" y="812" font-size="9.4" fill="#000" text-anchor="start" font-weight="normal" stroke="#000" stroke-width="0.15" >29 Aug 2019</text>
<rect x="0" y="820" width="1460" height="1" fill="#e3e3e3" />
<rect x="0" y="821" width="1460" height="1" fill="#ffffff" />
<rect x="0" y="822" width="1460" height="1" fill="#000000" />
<rect x="0" y="823" width="1460" height="18" fill="#f0f0f0" />
<rect x="0" y="823" width="1" height="18" fill="#606060" />
<rect x="6" y="822" width="106" height="18" fill="#ffffff" />
<rect x="5" y="822" width="1" height="19" fill="#000" />
<rect x="112" y="822" width="1" height="19" fill="#000" />
<rect x="5" y="840" width="108" height="1" fill="#000" />
<text x="16.5" y="837" font-size="12" fill="#000" text-anchor="start" font-weight="normal"  >EURUSD-,Daily</text>
<text x="123" y="837" font-size="12" fill="#6d6d6d" text-anchor="start" font-weight="normal"  >AUDUSD-,Daily</text>
<text x="233" y="837" font-size="12" fill="#6d6d6d" text-anchor="start" font-weight="normal"  >USDCHF-,Daily</text>
<text x="341" y="837" font-size="12" fill="#6d6d6d" text-anchor="start" font-weight="normal"  >USDCAD-,Daily</text>
<text x="449" y="837" font-size="12" fill="#6d6d6d" text-anchor="start" font-weight="normal"  >USDCNH-,Daily</text>
<text x="560" y="837" font-size="12" fill="#6d6d6d" text-anchor="start" font-weight="normal"  >EURCHF-,Weekly</text>
<text x="680" y="837" font-size="12" fill="#6d6d6d" text-anchor="start" font-weight="normal"  >XAUUSD-,Weekly</text>
<text x="804" y="837" font-size="12" fill="#6d6d6d" text-anchor="start" font-weight="normal"  >GBPUSD-,H1</text>
<text x="900" y="837" font-size="12" fill="#6d6d6d" text-anchor="start" font-weight="normal"  >UKOil-,H1</text>
<text x="979" y="837" font-size="12" fill="#6d6d6d" text-anchor="start" font-weight="normal"  >USDX-,Weekly</text>
<rect x="222" y="826" width="1" height="12" fill="#6d6d6d" />
<rect x="329" y="826" width="1" height="12" fill="#6d6d6d" />
<rect x="437" y="826" width="1" height="12" fill="#6d6d6d" />
<rect x="548" y="826" width="1" height="12" fill="#6d6d6d" />
<rect x="670" y="826" width="1" height="12" fill="#6d6d6d" />
<rect x="793" y="826" width="1" height="12" fill="#6d6d6d" />
<rect x="890" y="826" width="1" height="12" fill="#6d6d6d" />
<rect x="970" y="826" width="1" height="12" fill="#6d6d6d" />
<rect x="1073" y="826" width="1" height="12" fill="#6d6d6d" />
<polygon points="1438.5,827.5 1438.5,834.5 1434.5,831" fill="#9a9a9a"/>
<polygon points="1454,827.5 1454,834.5 1458,831" fill="#9a9a9a"/>
<defs><linearGradient id="rg" gradientUnits="userSpaceOnUse" x1="0" y1="43" x2="0" y2="107"><stop offset="0" stop-color="#fb5858"/><stop offset="0.375" stop-color="#e03535"/><stop offset="1" stop-color="#b00505"/></linearGradient><linearGradient id="sp" gradientUnits="userSpaceOnUse" x1="0" y1="45" x2="0" y2="64"><stop offset="0" stop-color="#f3f3f3"/><stop offset="0.3" stop-color="#ececec"/><stop offset="0.33" stop-color="#dcdcdc"/><stop offset="1" stop-color="#d4d4d4"/></linearGradient></defs>
<g shape-rendering="crispEdges">
<rect x="5" y="41" width="223" height="68" fill="#ffffff" />
<path d="M7,43H59V67H116V107H7Z" fill="url(#rg)"/>
<rect x="7" y="43" width="52" height="1" fill="#b00000" />
<rect x="7" y="43" width="1" height="64" fill="#b00000" />
<rect x="58" y="43" width="1" height="25" fill="#b00000" />
<rect x="58" y="67" width="58" height="1" fill="#b00000" />
<rect x="115" y="67" width="1" height="40" fill="#b00000" />
<rect x="7" y="106" width="109" height="1" fill="#b00000" />
<rect x="11" y="66" width="44" height="1" fill="#9a0000" />
<rect x="11" y="67" width="44" height="1" fill="#f27a7a" />
<path d="M174,43H226V107H118V67H174Z" fill="url(#rg)"/>
<rect x="174" y="43" width="52" height="1" fill="#b00000" />
<rect x="225" y="43" width="1" height="64" fill="#b00000" />
<rect x="174" y="43" width="1" height="25" fill="#b00000" />
<rect x="118" y="67" width="57" height="1" fill="#b00000" />
<rect x="118" y="67" width="1" height="40" fill="#b00000" />
<rect x="118" y="106" width="108" height="1" fill="#b00000" />
<rect x="178" y="66" width="44" height="1" fill="#9a0000" />
<rect x="178" y="67" width="44" height="1" fill="#f27a7a" />
<rect x="61" y="43" width="111" height="22" fill="#a9acb3" />
<rect x="62" y="44" width="109" height="20" fill="#ffffff" />
<rect x="63" y="45" width="19" height="19" fill="url(#sp)" />
<rect x="82" y="44" width="1" height="20" fill="#a9acb3" />
<rect x="151" y="45" width="20" height="19" fill="url(#sp)" />
<rect x="150" y="44" width="1" height="20" fill="#a9acb3" />
</g>
<polygon points="69,52 75,52 72,55.5" fill="#5468c8"/>
<polygon points="158,55.5 164,55.5 161,52" fill="#5468c8"/>
<text transform="translate(19.2,59) scale(0.87,1)" font-size="12" fill="#ffffff">SELL</text>
<text transform="translate(187.5,59) scale(0.87,1)" font-size="12" fill="#ffffff">BUY</text>
<text x="146.5" y="58" font-size="12" fill="#000000" text-anchor="end" font-weight="normal"  >1.00</text>
<text x="27" y="98" font-size="12" fill="#ffffff" text-anchor="start" font-weight="bold"  >1.09</text>
<text transform="translate(54.5,98) scale(0.85,1)" font-size="36" fill="#ffffff">88</text>
<text x="94" y="82" font-size="12" fill="#ffffff" text-anchor="start" font-weight="bold"  >6</text>
<text x="137" y="98" font-size="12" fill="#ffffff" text-anchor="start" font-weight="bold"  >1.09</text>
<text transform="translate(165.5,98) scale(0.85,1)" font-size="36" fill="#ffffff">90</text>
<text x="205" y="82" font-size="12" fill="#ffffff" text-anchor="start" font-weight="bold"  >4</text>
</svg>
</body></html>
